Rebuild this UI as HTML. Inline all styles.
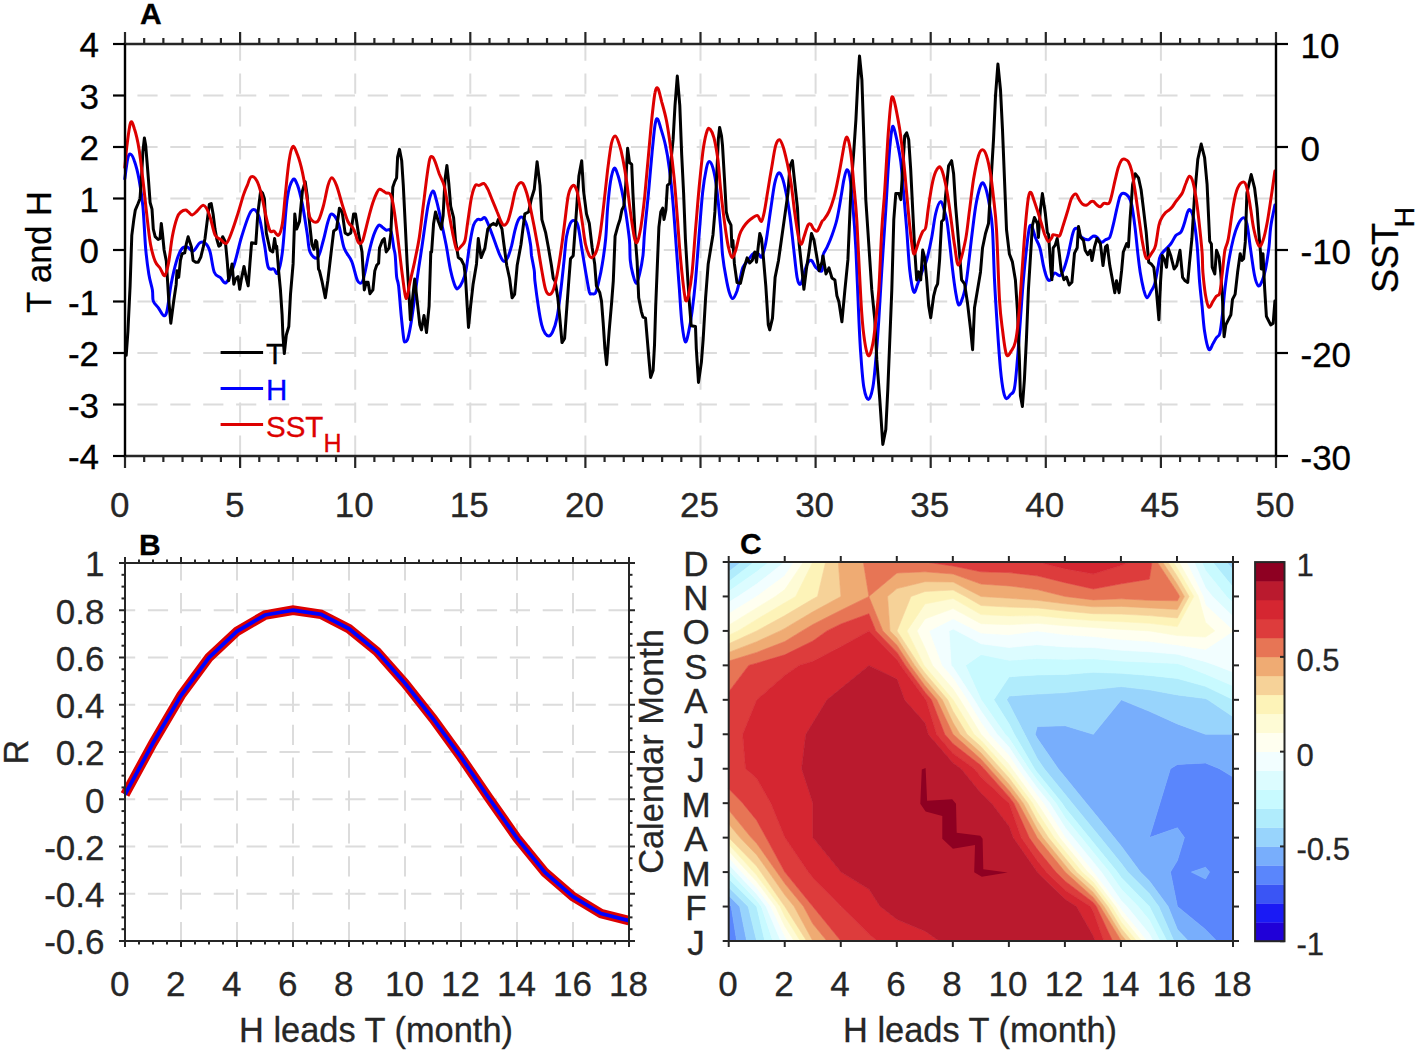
<!DOCTYPE html>
<html><head><meta charset="utf-8"><style>
html,body{margin:0;padding:0;background:#fff;width:1417px;height:1053px;overflow:hidden}
svg{display:block;font-family:"Liberation Sans", sans-serif}
text{stroke:currentColor;stroke-width:0.3px;paint-order:stroke}
</style></head><body>
<svg width="1417" height="1053" viewBox="0 0 1417 1053">
<rect width="1417" height="1053" fill="#fff"/>
<line x1="125.00" y1="404.50" x2="1276.00" y2="404.50" stroke="#dcdcdc" stroke-width="2" stroke-dasharray="20.2 12.7" stroke-dashoffset="20.5"/>
<line x1="125.00" y1="353.00" x2="1276.00" y2="353.00" stroke="#dcdcdc" stroke-width="2" stroke-dasharray="20.2 12.7" stroke-dashoffset="20.5"/>
<line x1="125.00" y1="301.50" x2="1276.00" y2="301.50" stroke="#dcdcdc" stroke-width="2" stroke-dasharray="20.2 12.7" stroke-dashoffset="20.5"/>
<line x1="125.00" y1="250.00" x2="1276.00" y2="250.00" stroke="#dcdcdc" stroke-width="2" stroke-dasharray="20.2 12.7" stroke-dashoffset="20.5"/>
<line x1="125.00" y1="198.50" x2="1276.00" y2="198.50" stroke="#dcdcdc" stroke-width="2" stroke-dasharray="20.2 12.7" stroke-dashoffset="20.5"/>
<line x1="125.00" y1="147.00" x2="1276.00" y2="147.00" stroke="#dcdcdc" stroke-width="2" stroke-dasharray="20.2 12.7" stroke-dashoffset="20.5"/>
<line x1="125.00" y1="95.50" x2="1276.00" y2="95.50" stroke="#dcdcdc" stroke-width="2" stroke-dasharray="20.2 12.7" stroke-dashoffset="20.5"/>
<line x1="240.10" y1="44.00" x2="240.10" y2="456.00" stroke="#dcdcdc" stroke-width="2" stroke-dasharray="20.2 12.7" stroke-dashoffset="3.4"/>
<line x1="355.20" y1="44.00" x2="355.20" y2="456.00" stroke="#dcdcdc" stroke-width="2" stroke-dasharray="20.2 12.7" stroke-dashoffset="3.4"/>
<line x1="470.30" y1="44.00" x2="470.30" y2="456.00" stroke="#dcdcdc" stroke-width="2" stroke-dasharray="20.2 12.7" stroke-dashoffset="3.4"/>
<line x1="585.40" y1="44.00" x2="585.40" y2="456.00" stroke="#dcdcdc" stroke-width="2" stroke-dasharray="20.2 12.7" stroke-dashoffset="3.4"/>
<line x1="700.50" y1="44.00" x2="700.50" y2="456.00" stroke="#dcdcdc" stroke-width="2" stroke-dasharray="20.2 12.7" stroke-dashoffset="3.4"/>
<line x1="815.60" y1="44.00" x2="815.60" y2="456.00" stroke="#dcdcdc" stroke-width="2" stroke-dasharray="20.2 12.7" stroke-dashoffset="3.4"/>
<line x1="930.70" y1="44.00" x2="930.70" y2="456.00" stroke="#dcdcdc" stroke-width="2" stroke-dasharray="20.2 12.7" stroke-dashoffset="3.4"/>
<line x1="1045.80" y1="44.00" x2="1045.80" y2="456.00" stroke="#dcdcdc" stroke-width="2" stroke-dasharray="20.2 12.7" stroke-dashoffset="3.4"/>
<line x1="1160.90" y1="44.00" x2="1160.90" y2="456.00" stroke="#dcdcdc" stroke-width="2" stroke-dasharray="20.2 12.7" stroke-dashoffset="3.4"/>
<path d="M124.8 178.8C125.3 175.5 126.7 163.0 127.7 158.9C128.6 154.7 129.4 153.8 130.5 154.1C131.7 154.4 132.9 156.5 134.3 160.8C135.8 165.0 137.7 172.1 139.1 179.7C140.5 187.3 141.8 194.8 142.9 206.3C144.0 217.8 144.7 237.6 145.7 248.9C146.7 260.2 147.7 267.1 148.8 273.9C149.9 280.8 151.6 285.3 152.4 289.9C153.1 294.4 152.3 298.1 153.3 301.1C154.3 304.1 156.7 305.5 158.4 307.9C160.1 310.3 162.1 315.0 163.5 315.5C164.9 316.1 165.6 316.5 166.9 311.3C168.2 306.1 169.6 292.4 171.1 284.2C172.7 276.0 174.5 268.0 176.2 262.2C177.9 256.4 179.4 252.0 181.3 249.5C183.1 246.9 185.2 246.7 187.2 246.9C189.2 247.2 191.0 251.9 193.1 251.2C195.3 250.5 197.8 244.0 199.9 242.7C202.0 241.4 204.1 242.0 205.8 243.6C207.5 245.1 208.7 247.2 210.1 252.0C211.5 256.8 212.6 268.1 214.3 272.3C216.0 276.6 218.3 275.7 220.2 277.4C222.2 279.1 223.9 284.5 226.2 282.5C228.5 280.5 231.4 272.8 234.0 265.2C236.6 257.5 238.8 245.7 241.6 236.7C244.5 227.7 248.3 214.5 251.1 211.1C254.0 207.6 256.5 210.3 258.7 215.8C260.9 221.4 262.8 235.8 264.4 244.3C266.0 252.8 266.6 263.0 268.2 267.1C269.8 271.2 272.3 268.0 273.9 269.0C275.5 269.9 276.3 275.6 277.7 272.8C279.1 269.9 280.9 264.2 282.4 251.9C284.0 239.5 285.4 210.8 287.2 198.7C288.9 186.7 291.1 182.0 292.9 179.7C294.6 177.5 296.0 181.3 297.6 185.4C299.2 189.6 300.8 196.5 302.4 204.4C304.0 212.3 305.8 225.0 307.1 232.9C308.4 240.8 308.2 247.8 310.0 251.9C311.7 256.0 315.3 259.5 317.6 257.6C319.8 255.7 321.5 246.5 323.3 240.5C325.0 234.5 326.6 225.9 328.0 221.5C329.4 217.1 330.1 213.6 331.8 213.9C333.5 214.2 336.4 217.7 338.4 223.4C340.5 229.1 341.9 241.8 344.1 248.1C346.4 254.4 349.5 256.0 351.7 261.4C353.9 266.8 355.7 276.9 357.4 280.4C359.1 283.8 360.7 283.8 362.0 282.3C363.3 280.7 364.1 275.9 365.3 270.9C366.5 265.8 367.7 257.9 369.1 251.9C370.5 245.9 372.3 239.2 373.8 234.8C375.4 230.4 377.2 226.6 378.6 225.3C380.0 224.0 381.1 226.4 382.4 227.2C383.6 228.0 384.8 229.4 386.2 230.1C387.6 230.7 389.7 228.0 390.9 231.0C392.2 234.0 393.1 244.0 393.8 248.1C394.5 252.2 394.7 250.7 395.2 255.4C395.7 260.2 396.1 271.5 396.6 276.6C397.2 281.7 397.8 279.5 398.6 285.9C399.3 292.2 400.3 305.9 401.1 314.7C402.0 323.4 403.0 333.9 403.7 338.4C404.4 342.9 404.6 341.8 405.4 341.8C406.1 341.8 406.9 341.8 407.9 338.4C408.9 335.0 410.2 328.2 411.3 321.5C412.4 314.7 413.5 305.9 414.7 297.8C415.8 289.6 416.9 280.2 418.1 272.3C419.2 264.4 419.8 261.3 421.4 250.3C423.1 239.3 426.1 216.2 427.9 206.3C429.8 196.5 431.3 192.1 432.7 191.1C434.1 190.2 435.1 195.6 436.5 200.6C437.9 205.7 439.7 214.2 441.2 221.5C442.8 228.8 444.4 236.1 446.0 244.3C447.6 252.5 449.1 263.8 450.7 270.9C452.3 278.0 454.2 284.2 455.5 287.0C456.7 289.9 457.2 288.8 458.3 288.0C459.4 287.2 460.9 285.1 462.1 282.3C463.4 279.4 464.7 277.2 465.9 270.9C467.2 264.5 468.4 251.9 469.7 244.3C471.0 236.7 472.2 229.4 473.5 225.3C474.8 221.2 476.0 220.6 477.3 219.6C478.6 218.7 479.8 219.9 481.1 219.6C482.4 219.3 483.6 216.8 484.9 217.7C486.2 218.7 487.1 221.5 488.7 225.3C490.3 229.1 492.5 235.4 494.4 240.5C496.3 245.6 498.5 252.2 500.1 255.7C501.7 259.2 502.6 261.1 503.9 261.4C505.2 261.7 506.4 260.1 507.7 257.6C509.0 255.1 510.2 250.9 511.5 246.2C512.7 241.4 514.0 233.7 515.3 229.1C516.5 224.5 517.8 220.6 519.1 218.7C520.3 216.8 521.6 216.6 522.9 217.7C524.1 218.8 525.4 220.9 526.7 225.3C527.9 229.7 529.7 239.3 530.5 244.3C531.3 249.3 530.9 251.0 531.5 255.4C532.2 259.8 533.7 266.6 534.3 270.9C534.8 275.1 534.3 274.9 534.9 280.8C535.6 286.7 537.2 298.9 538.3 306.2C539.4 313.6 540.6 320.3 541.7 324.9C542.8 329.4 543.8 331.5 545.1 333.3C546.4 335.2 548.1 336.1 549.3 335.9C550.6 335.6 551.4 334.6 552.7 331.6C554.0 328.7 555.7 324.3 556.9 318.1C558.2 311.9 559.2 303.4 560.3 294.4C561.5 285.3 562.7 273.5 563.7 263.9C564.8 254.3 565.4 243.4 566.5 236.7C567.6 230.0 569.1 226.1 570.3 223.4C571.6 220.7 572.9 220.2 574.1 220.6C575.4 220.9 576.7 220.7 577.9 225.3C579.2 229.9 580.5 240.5 581.7 248.1C583.0 255.7 584.3 263.6 585.5 270.9C586.8 278.2 588.3 288.0 589.3 291.8C590.4 295.6 590.9 293.5 592.0 293.7C593.0 293.8 594.4 294.8 595.6 292.7C596.7 290.5 597.8 285.6 598.9 280.8C600.1 276.0 601.2 270.9 602.3 263.9C603.5 256.8 604.8 247.8 605.7 238.5C606.6 229.2 606.8 217.6 607.6 208.1C608.4 198.6 609.4 188.2 610.5 181.5C611.6 174.9 613.0 169.2 614.3 168.2C615.5 167.3 616.8 172.0 618.1 175.8C619.3 179.6 620.6 185.0 621.9 191.0C623.1 197.0 624.4 203.7 625.7 211.9C626.9 220.1 628.7 232.3 629.5 240.4C630.2 248.5 629.7 254.9 630.3 260.5C630.8 266.1 631.8 270.2 632.8 274.0C633.8 277.8 635.1 283.4 636.2 283.4C637.3 283.4 638.5 278.7 639.6 274.0C640.7 269.4 642.1 262.6 643.0 255.4C643.8 248.2 643.7 241.3 644.7 230.9C645.6 220.5 647.2 206.2 648.5 192.9C649.7 179.6 651.1 162.5 652.2 151.1C653.4 139.7 654.2 129.9 655.1 124.6C656.0 119.2 656.6 118.2 657.6 118.9C658.5 119.5 659.5 123.9 660.8 128.4C662.1 132.8 664.1 138.8 665.5 145.4C667.0 152.1 668.1 158.4 669.3 168.2C670.6 178.0 671.9 189.8 673.1 204.3C674.4 218.8 675.8 241.2 676.9 255.4C677.9 269.6 678.5 278.0 679.4 289.3C680.2 300.6 680.9 314.4 681.9 323.2C682.9 331.9 684.2 340.4 685.3 341.8C686.4 343.2 687.6 336.7 688.7 331.6C689.8 326.5 691.0 319.8 692.1 311.3C693.2 302.8 694.4 292.9 695.5 280.8C696.6 268.7 697.6 253.6 698.8 238.9C700.0 224.3 701.3 204.7 702.6 192.9C703.8 181.1 705.3 173.4 706.4 168.2C707.5 163.0 708.1 161.6 709.2 161.6C710.3 161.6 711.7 163.6 713.0 168.2C714.3 172.8 715.5 179.3 716.8 189.1C718.1 198.9 719.6 216.0 720.6 227.1C721.6 238.1 721.7 247.0 722.6 255.4C723.5 263.8 724.8 271.2 726.0 277.4C727.1 283.6 728.2 289.1 729.4 292.7C730.5 296.2 731.5 298.9 732.7 298.6C734.0 298.3 735.7 294.5 737.0 291.0C738.2 287.4 739.4 281.4 740.4 277.4C741.4 273.5 741.6 270.1 742.9 267.3C744.2 264.4 746.3 262.7 748.0 260.5C749.7 258.2 751.4 254.8 753.1 253.7C754.8 252.6 756.7 253.1 758.2 253.7C759.6 254.3 760.4 258.2 761.5 257.1C762.7 256.0 764.0 250.7 764.9 246.9C765.9 243.2 766.1 241.1 767.1 234.7C768.1 228.2 769.6 216.6 770.9 208.1C772.2 199.5 773.4 189.3 774.7 183.4C776.0 177.6 777.2 173.9 778.5 173.0C779.8 172.0 781.0 174.4 782.3 177.7C783.6 181.0 784.8 186.6 786.1 192.9C787.4 199.2 788.6 206.4 789.9 215.7C791.2 225.0 792.5 238.5 793.7 248.8C794.9 259.1 796.0 271.5 797.1 277.4C798.2 283.3 799.4 284.8 800.5 284.2C801.6 283.6 802.8 277.4 803.9 274.0C805.0 270.7 806.0 266.1 807.3 263.9C808.5 261.6 810.1 259.9 811.5 260.5C812.9 261.1 814.0 265.6 815.7 267.3C817.5 269.0 820.8 272.6 822.0 270.7C823.2 268.7 822.1 259.3 823.0 255.4C823.8 251.6 825.5 250.8 827.0 247.4C828.5 244.1 830.3 240.1 831.9 235.5C833.6 230.8 835.4 225.8 836.9 219.5C838.4 213.2 839.8 204.2 840.9 197.6C842.1 190.9 842.9 184.3 843.9 179.6C844.9 175.0 845.9 170.0 846.9 169.7C847.9 169.3 848.9 171.7 849.9 177.6C850.9 183.6 851.9 193.6 852.9 205.6C853.9 217.5 854.9 230.4 855.9 249.4C856.9 268.5 858.0 302.1 858.9 319.8C859.7 337.5 860.0 344.4 860.9 355.7C861.7 367.0 862.6 380.3 863.9 387.6C865.1 394.9 866.9 399.6 868.4 399.6C869.9 399.6 871.6 394.2 872.8 387.6C874.1 380.9 874.8 371.0 875.8 359.7C876.8 348.4 877.8 334.7 878.8 319.8C879.8 304.8 880.6 288.3 881.8 269.9C883.0 251.5 884.6 227.9 885.8 209.6C887.0 191.2 887.8 173.0 888.8 159.7C889.8 146.4 890.9 135.1 891.8 129.8C892.6 124.5 892.9 126.1 893.8 127.8C894.6 129.4 895.6 134.1 896.8 139.7C897.9 145.4 899.6 152.7 900.8 161.7C901.9 170.7 902.7 182.3 903.7 193.6C904.7 204.9 905.7 216.8 906.7 229.5C907.7 242.2 908.6 259.5 909.7 269.9C910.9 280.3 912.4 289.5 913.7 291.9C915.0 294.2 916.2 287.5 917.7 283.9C919.2 280.2 921.2 273.9 922.7 269.9C924.2 265.9 925.2 265.4 926.7 259.9C928.2 254.5 930.2 245.2 931.7 237.5C933.2 229.7 934.2 219.5 935.7 213.5C937.1 207.6 939.1 201.9 940.6 201.6C942.1 201.2 943.5 207.6 944.6 211.5C945.8 215.5 946.3 215.8 947.6 225.5C948.9 235.2 951.3 258.9 952.6 269.9C953.9 281.0 954.6 286.0 955.6 291.9C956.6 297.7 957.4 303.8 958.6 304.8C959.8 305.8 961.2 302.0 962.6 297.8C963.9 293.7 964.9 291.3 966.6 279.9C968.2 268.5 970.9 242.5 972.6 229.5C974.2 216.4 975.0 209.2 976.5 201.6C978.0 193.9 980.0 186.0 981.5 183.6C983.0 181.3 984.2 184.0 985.5 187.6C986.8 191.3 988.3 198.6 989.5 205.6C990.7 212.5 991.7 217.1 992.5 229.5C993.3 241.9 993.7 263.2 994.5 279.9C995.3 296.6 996.5 314.8 997.5 329.7C998.5 344.7 999.5 359.3 1000.5 369.6C1001.5 379.9 1002.5 386.8 1003.5 391.6C1004.5 396.4 1005.3 398.1 1006.5 398.6C1007.6 399.1 1009.1 396.2 1010.4 394.6C1011.8 392.9 1013.3 394.4 1014.4 388.6C1015.6 382.8 1016.4 371.1 1017.4 359.7C1018.4 348.2 1019.4 333.1 1020.4 319.8C1021.4 306.5 1022.1 294.3 1023.4 279.9C1024.7 265.5 1027.1 242.5 1028.4 233.5C1029.7 224.4 1030.2 224.8 1031.4 225.5C1032.5 226.2 1033.9 233.8 1035.4 237.5C1036.8 241.2 1038.6 243.2 1039.9 247.8C1041.3 252.4 1042.2 260.2 1043.3 265.1C1044.4 269.9 1045.5 274.5 1046.6 277.0C1047.7 279.6 1048.6 281.0 1049.9 280.3C1051.2 279.7 1052.9 273.8 1054.6 273.0C1056.2 272.3 1058.3 276.4 1059.9 275.7C1061.4 275.0 1062.6 272.4 1063.9 269.0C1065.2 265.7 1066.5 261.1 1067.9 255.7C1069.2 250.4 1070.8 241.6 1071.9 237.1C1073.0 232.7 1073.4 230.5 1074.5 229.1C1075.6 227.8 1077.6 228.1 1078.5 229.1C1079.4 230.2 1079.1 233.9 1080.1 235.5C1081.1 237.1 1082.9 238.2 1084.3 238.9C1085.8 239.6 1087.2 240.2 1088.6 239.7C1090.0 239.3 1091.4 236.8 1092.8 236.3C1094.2 235.9 1095.6 236.2 1097.0 237.2C1098.5 238.2 1099.9 241.9 1101.3 242.3C1102.7 242.7 1104.1 240.6 1105.5 239.7C1106.9 238.9 1108.5 239.6 1109.8 237.2C1111.0 234.8 1112.0 229.9 1113.1 225.3C1114.3 220.8 1115.4 214.9 1116.5 210.1C1117.7 205.3 1118.8 199.4 1119.9 196.5C1121.0 193.7 1121.9 193.2 1123.3 193.2C1124.7 193.2 1127.0 194.6 1128.4 196.5C1129.8 198.5 1130.6 199.6 1131.8 205.0C1132.9 210.4 1134.2 220.8 1135.2 228.7C1136.1 236.6 1136.9 245.2 1137.7 252.4C1138.5 259.7 1139.3 266.2 1140.2 272.3C1141.2 278.5 1142.5 285.0 1143.6 289.3C1144.8 293.5 1145.7 297.5 1147.0 297.8C1148.3 298.0 1150.0 293.2 1151.2 291.0C1152.5 288.7 1153.5 288.2 1154.6 284.2C1155.8 280.2 1157.0 272.1 1158.0 267.3C1159.0 262.5 1158.4 259.3 1160.6 255.4C1162.7 251.5 1168.2 247.3 1170.7 244.0C1173.3 240.7 1174.1 237.5 1175.8 235.5C1177.5 233.5 1179.5 234.1 1180.9 232.1C1182.3 230.1 1183.1 227.0 1184.3 223.6C1185.4 220.3 1186.7 214.0 1187.7 211.8C1188.7 209.5 1189.2 209.0 1190.2 210.1C1191.2 211.2 1192.5 212.9 1193.6 218.6C1194.7 224.2 1196.0 233.6 1197.0 244.0C1198.0 254.3 1198.7 270.4 1199.5 280.8C1200.4 291.2 1201.2 297.8 1202.1 306.2C1202.9 314.7 1203.5 324.4 1204.6 331.6C1205.7 338.8 1207.4 347.4 1208.8 349.4C1210.2 351.4 1211.8 345.5 1213.1 343.5C1214.3 341.5 1215.3 339.2 1216.5 337.6C1217.6 335.9 1218.9 337.1 1219.8 333.3C1220.8 329.5 1221.5 322.0 1222.4 314.7C1223.2 307.3 1223.9 297.8 1224.9 289.3C1225.9 280.8 1226.9 272.3 1228.3 263.9C1229.7 255.4 1231.7 245.2 1233.4 238.5C1235.1 231.8 1236.8 227.1 1238.5 223.6C1240.2 220.2 1242.1 217.7 1243.6 217.7C1245.0 217.7 1245.8 218.7 1246.9 223.6C1248.1 228.6 1249.1 238.7 1250.3 247.4C1251.6 256.0 1253.2 269.3 1254.6 275.7C1255.9 282.2 1257.2 285.0 1258.5 285.9C1259.7 286.7 1261.0 283.6 1262.2 280.8C1263.4 278.0 1264.4 274.6 1265.6 269.0C1266.7 263.3 1268.1 253.9 1269.0 246.9C1269.8 240.0 1269.7 234.0 1270.7 227.0C1271.6 220.0 1274.2 208.7 1274.9 205.0" fill="none" stroke="#0000ff" stroke-width="3.0" stroke-linejoin="round" stroke-linecap="round"/>
<polyline points="126.2,355.3 127.9,331.6 130.1,285.9 131.8,235.4 133.8,219.6 135.3,210.1 138.1,203.5 140.0,198.7 141.6,175.9 142.9,151.3 144.4,138.0 145.7,145.6 147.1,162.7 148.6,181.6 150.1,202.5 152.0,209.2 153.3,229.1 155.2,236.7 158.1,239.5 160.0,238.6 161.3,223.4 162.4,232.9 164.1,250.0 166.3,261.0 168.6,297.8 170.8,323.2 173.7,301.1 176.2,284.2 177.0,270.7 178.7,277.4 180.4,260.5 182.1,253.7 184.7,252.9 186.4,243.6 188.1,236.8 189.8,241.9 191.4,246.9 193.1,260.5 195.7,262.2 198.2,262.2 200.8,257.1 203.3,246.9 205.0,238.5 209.3,204.4 211.2,203.5 213.1,213.9 215.0,229.1 216.9,239.5 218.8,246.2 220.5,245.2 222.7,236.7 225.4,242.0 227.2,260.9 228.7,280.8 232.1,263.9 233.8,284.2 235.5,279.1 238.0,276.6 239.7,289.3 241.4,279.1 244.0,266.4 246.5,279.1 248.2,285.9 249.9,263.9 251.6,242.7 255.8,243.6 257.8,213.9 260.6,191.1 262.5,193.0 264.4,198.7 266.3,232.9 270.1,250.2 272.8,252.0 274.6,238.4 276.1,248.6 276.7,246.2 278.7,271.6 280.4,289.3 282.1,314.7 282.9,335.0 284.3,353.6 286.3,335.0 288.8,326.5 290.5,294.4 293.1,263.9 294.8,213.9 296.7,229.1 299.5,221.5 302.4,191.1 305.2,181.6 307.1,194.9 309.0,217.7 311.9,244.3 314.0,249.3 315.7,240.5 316.8,241.9 317.6,250.0 318.5,269.0 319.5,270.9 321.9,280.8 325.3,297.8 327.8,280.8 331.0,253.6 333.7,231.0 336.5,229.1 339.4,208.2 342.2,212.0 345.1,232.9 347.9,234.8 350.8,232.9 353.6,213.9 355.5,213.9 358.4,232.9 362.0,251.9 364.3,289.9 366.2,282.3 368.1,282.3 370.0,293.7 372.9,289.9 374.8,270.9 376.7,265.2 378.6,263.3 379.5,248.1 382.4,240.5 384.3,238.6 386.2,251.9 389.0,248.1 390.9,232.9 392.8,187.3 394.7,181.6 396.6,177.8 397.6,157.0 399.5,149.4 401.7,160.8 403.3,185.4 405.2,223.4 407.1,262.6 408.7,289.3 410.4,319.8 413.0,294.4 414.7,279.1 417.2,301.1 419.8,324.9 421.4,329.9 424.0,315.5 426.5,332.5 429.1,306.2 430.8,251.9 431.6,252.0 433.6,223.4 435.5,212.0 438.4,221.5 441.2,229.1 443.1,215.8 445.0,179.7 446.9,165.5 448.8,183.5 450.7,206.3 453.6,217.7 455.5,240.5 458.3,257.6 461.2,259.5 464.0,265.2 465.5,277.4 467.2,306.2 468.5,327.4 470.6,306.2 473.1,284.2 476.5,263.9 478.3,238.6 481.1,257.6 484.9,248.1 487.8,229.1 490.6,225.3 493.4,223.4 496.3,225.3 498.2,219.6 502.0,229.1 503.9,244.3 506.7,265.2 509.6,278.5 512.1,297.8 514.6,294.4 517.2,265.2 521.0,244.3 524.8,213.9 528.6,212.0 531.4,198.7 534.3,189.2 537.1,161.7 540.0,185.4 541.9,219.6 545.7,232.9 548.5,248.1 551.4,265.2 553.3,278.5 555.2,281.5 557.8,297.8 559.5,314.7 562.0,342.6 564.6,338.4 566.3,314.7 568.8,280.8 570.5,258.8 573.2,255.7 576.0,217.7 578.9,175.9 581.7,160.8 583.6,191.1 586.5,213.9 589.3,223.4 592.1,247.2 594.7,263.9 596.4,285.9 599.8,292.7 601.5,301.1 603.2,323.2 604.9,348.6 606.6,364.7 609.1,331.6 611.6,302.8 613.3,280.8 615.1,236.1 618.1,225.2 620.0,219.5 621.9,210.0 623.8,206.2 625.7,185.3 626.6,166.3 627.6,148.3 629.5,162.5 631.7,164.4 632.9,192.9 635.1,235.1 637.1,261.1 638.7,297.8 641.3,311.3 643.0,317.2 645.5,318.1 647.2,338.4 648.9,358.7 650.6,377.4 653.1,370.6 654.5,345.2 655.7,306.2 657.4,263.9 658.9,227.1 660.8,211.9 662.7,208.1 664.0,219.5 665.9,210.0 667.4,185.3 669.7,183.4 671.2,158.7 673.1,139.7 675.0,105.6 677.3,76.1 679.8,105.6 681.7,154.9 683.6,192.9 685.4,238.9 687.9,280.8 689.6,306.2 691.2,325.7 695.5,326.5 696.3,348.6 698.5,382.4 701.4,362.1 703.1,340.1 705.6,297.8 708.2,263.9 713.0,234.7 714.9,211.9 716.8,173.9 718.3,139.7 719.6,127.4 721.5,135.9 722.5,145.4 724.4,177.7 726.3,211.9 728.2,219.5 731.0,225.2 731.9,246.9 732.9,240.4 734.4,263.9 737.0,282.5 740.4,283.4 743.8,269.0 747.1,257.9 749.7,263.0 752.2,260.5 754.8,252.0 756.5,262.2 758.2,246.9 759.8,233.4 761.5,238.5 763.2,255.4 765.8,285.9 768.3,324.9 769.7,329.9 772.5,318.1 775.1,277.4 778.5,260.5 788.0,192.9 789.9,166.3 792.4,160.6 794.6,181.5 797.5,208.1 799.1,243.3 802.2,272.3 803.9,289.3 806.4,269.0 809.0,252.0 811.5,233.4 814.0,240.2 816.6,255.4 819.1,270.8 822.0,261.9 823.0,256.0 826.0,273.9 829.0,267.9 831.9,277.9 834.9,279.9 836.9,295.8 838.9,301.8 841.9,321.8 844.9,289.9 847.9,259.9 850.9,189.6 853.9,149.7 855.9,119.8 857.9,79.9 859.5,56.0 861.9,79.9 863.9,139.7 865.8,199.6 867.8,229.5 871.8,289.9 874.8,319.8 876.8,359.7 879.8,399.6 882.8,444.4 885.8,429.5 887.8,389.6 889.8,339.7 891.8,289.9 893.8,219.5 895.8,193.6 898.8,193.6 900.8,199.6 902.7,169.7 904.7,135.8 906.7,132.8 908.7,139.7 910.7,169.7 912.7,209.6 914.7,249.4 916.7,279.9 918.7,271.9 920.7,279.9 922.7,250.0 924.7,257.9 926.7,279.9 928.7,305.8 930.7,317.8 933.7,295.8 935.7,287.9 937.6,283.9 939.6,259.9 941.6,221.5 943.6,219.5 945.6,195.6 948.6,165.7 951.6,160.7 953.6,173.7 955.6,205.6 957.6,229.5 961.6,279.9 964.6,283.9 967.6,303.8 970.6,329.7 972.6,349.7 974.5,307.8 977.5,289.9 980.5,271.9 982.5,248.0 985.5,233.5 988.5,223.5 990.5,189.6 993.5,139.7 995.5,95.9 997.9,64.0 1000.5,89.9 1002.5,129.8 1004.5,179.6 1006.5,229.5 1009.4,254.0 1012.4,261.9 1015.4,279.9 1017.4,309.8 1019.4,359.7 1020.4,395.6 1022.4,406.5 1024.4,379.6 1026.4,339.7 1028.4,289.9 1032.4,225.5 1034.4,217.5 1037.4,223.5 1038.4,237.5 1040.4,209.6 1042.4,193.6 1045.3,213.2 1047.3,232.5 1048.6,234.5 1050.6,266.4 1051.9,279.7 1053.2,247.8 1055.2,245.1 1057.2,238.5 1059.2,253.1 1061.2,270.4 1063.9,279.7 1066.5,277.0 1069.2,285.0 1071.9,282.3 1074.5,253.1 1077.2,247.8 1078.5,226.5 1080.5,237.1 1083.5,240.6 1085.2,250.3 1087.7,254.6 1090.3,250.3 1092.0,260.5 1094.5,246.9 1097.0,238.5 1100.4,243.6 1103.0,265.6 1105.5,246.9 1107.2,245.2 1109.8,265.6 1112.3,279.1 1114.8,292.7 1116.5,280.8 1119.1,292.7 1121.6,270.7 1123.3,252.0 1126.7,243.6 1128.4,246.9 1130.1,218.6 1132.6,184.7 1135.2,173.7 1138.5,177.9 1141.1,189.8 1143.6,210.1 1146.2,232.1 1147.9,252.4 1148.7,262.2 1151.2,263.9 1153.8,267.3 1156.3,289.3 1158.9,319.8 1160.6,280.8 1162.3,255.4 1164.8,260.5 1166.5,267.3 1168.2,248.6 1170.7,255.4 1174.1,269.0 1176.7,265.6 1180.0,250.3 1182.6,277.4 1185.1,280.8 1187.7,282.5 1189.4,263.9 1191.9,238.5 1194.4,198.2 1197.8,159.3 1201.2,144.0 1204.6,157.6 1207.1,184.7 1209.7,241.2 1211.4,244.0 1212.2,267.3 1214.8,274.0 1216.5,250.3 1219.0,257.1 1220.7,272.3 1222.4,297.8 1224.1,336.7 1225.8,324.9 1228.3,319.8 1230.9,314.7 1232.5,299.4 1235.1,294.4 1237.6,272.3 1240.2,253.7 1241.9,260.5 1243.6,258.8 1245.3,241.9 1246.9,193.2 1251.2,174.5 1254.6,188.1 1257.1,208.4 1258.8,232.1 1260.5,252.4 1261.3,269.0 1263.0,253.7 1264.7,289.3 1266.4,316.4 1269.0,321.5 1270.7,324.9 1273.2,323.2 1274.9,301.1" fill="none" stroke="#000000" stroke-width="3.0" stroke-linejoin="round" stroke-linecap="round"/>
<path d="M124.8 167.4C125.2 164.1 125.8 154.9 126.7 147.5C127.7 140.0 129.3 125.9 130.5 122.8C131.8 119.6 132.9 124.0 134.3 128.5C135.8 132.9 137.7 140.8 139.1 149.4C140.5 157.9 141.6 169.0 142.9 179.7C144.2 190.5 145.4 203.2 146.7 213.9C147.9 224.7 149.1 236.4 150.5 244.3C151.9 252.2 153.6 257.4 155.2 261.4C156.8 265.3 158.4 265.7 160.0 268.0C161.6 270.4 163.3 276.4 164.7 275.6C166.1 274.8 167.3 269.8 168.5 263.3C169.8 256.8 170.9 244.3 172.3 236.7C173.7 229.1 175.6 221.8 177.1 217.7C178.5 213.6 179.4 213.3 180.9 212.0C182.3 210.8 184.3 210.1 185.6 210.1C186.9 210.1 187.3 211.2 188.5 212.0C189.6 212.8 190.8 215.0 192.2 214.9C193.7 214.7 195.3 212.7 197.0 211.1C198.7 209.5 201.1 205.8 202.7 205.4C204.3 204.9 205.2 206.2 206.5 208.2C207.8 210.3 208.9 213.3 210.3 217.7C211.7 222.1 213.3 231.2 215.0 234.8C216.8 238.4 218.8 238.1 220.7 239.5C222.6 241.0 224.5 244.8 226.4 243.3C228.3 241.9 230.2 235.9 232.1 231.0C234.0 226.1 235.9 219.9 237.8 213.9C239.7 207.9 241.9 199.7 243.5 194.9C245.1 190.2 246.0 188.4 247.3 185.4C248.6 182.4 249.5 177.7 251.1 176.9C252.7 176.1 255.1 177.7 256.8 180.7C258.5 183.7 260.0 188.8 261.5 194.9C263.1 201.1 264.9 211.7 266.3 217.7C267.7 223.7 268.8 228.8 270.1 231.0C271.4 233.2 272.5 230.3 273.9 231.0C275.3 231.7 277.2 236.4 278.6 235.2C280.1 233.9 281.3 230.1 282.4 223.4C283.5 216.7 284.2 205.4 285.3 194.9C286.4 184.5 287.8 168.8 289.1 160.8C290.3 152.7 291.5 147.5 292.9 146.5C294.3 145.6 296.0 150.8 297.6 155.1C299.2 159.3 300.8 164.9 302.4 172.1C304.0 179.4 305.8 191.1 307.1 198.7C308.4 206.3 308.2 213.9 310.0 217.7C311.7 221.5 315.3 223.4 317.6 221.5C319.8 219.6 321.5 212.3 323.3 206.3C325.0 200.3 326.6 190.2 328.0 185.4C329.4 180.7 330.4 177.8 331.8 177.8C333.2 177.8 334.8 181.0 336.5 185.4C338.3 189.9 340.3 198.4 342.2 204.4C344.1 210.4 346.0 217.4 347.9 221.5C349.8 225.6 351.9 225.6 353.6 229.1C355.4 232.6 356.9 240.3 358.4 242.4C359.8 244.5 361.1 243.5 362.2 241.6C363.4 239.7 364.1 235.3 365.3 231.0C366.4 226.7 367.8 220.6 369.1 215.8C370.4 211.1 371.6 206.3 372.9 202.5C374.2 198.7 375.6 195.2 376.7 193.0C377.8 190.8 378.4 189.6 379.5 189.2C380.6 188.9 382.2 190.5 383.3 191.1C384.4 191.8 385.1 192.6 386.2 193.0C387.3 193.5 388.9 192.4 390.0 194.0C391.1 195.6 391.9 197.9 392.8 202.5C393.8 207.1 394.6 213.3 395.7 221.5C396.8 229.7 398.4 243.0 399.5 251.9C400.6 260.7 401.2 266.9 402.3 274.7C403.4 282.4 404.8 297.1 406.1 298.4C407.4 299.7 408.5 288.4 409.9 282.3C411.3 276.1 413.1 269.0 414.7 261.4C416.2 253.8 418.0 245.9 419.4 236.7C420.8 227.5 421.9 216.4 423.2 206.3C424.5 196.2 425.9 183.9 427.0 175.9C428.1 168.0 428.9 162.0 429.8 158.9C430.8 155.7 431.7 156.3 432.7 157.0C433.6 157.6 434.4 159.8 435.5 162.7C436.6 165.5 437.9 170.2 439.3 174.0C440.8 177.8 442.8 181.0 444.1 185.4C445.3 189.9 446.0 195.2 446.9 200.6C447.9 206.0 448.8 212.3 449.8 217.7C450.7 223.1 451.7 228.2 452.6 232.9C453.6 237.6 454.7 243.3 455.5 246.2C456.3 249.0 456.4 250.0 457.4 250.0C458.3 250.0 459.9 247.8 461.2 246.2C462.4 244.6 463.9 244.6 465.0 240.5C466.1 236.4 466.7 228.8 467.8 221.5C468.9 214.2 470.3 202.8 471.6 196.8C472.9 190.8 474.1 187.3 475.4 185.4C476.7 183.5 477.8 185.8 479.2 185.4C480.6 185.1 482.5 182.9 484.0 183.5C485.4 184.2 486.3 186.4 487.8 189.2C489.2 192.1 490.9 196.8 492.5 200.6C494.1 204.4 495.8 208.5 497.2 212.0C498.7 215.5 499.9 219.3 501.0 221.5C502.1 223.7 502.8 225.3 503.9 225.3C505.0 225.3 506.4 224.4 507.7 221.5C509.0 218.7 510.2 213.3 511.5 208.2C512.7 203.2 514.0 195.2 515.3 191.1C516.5 187.0 517.8 184.8 519.1 183.5C520.3 182.3 521.6 182.0 522.9 183.5C524.1 185.1 525.4 188.9 526.7 193.0C527.9 197.1 529.2 202.5 530.5 208.2C531.7 213.9 533.0 220.6 534.3 227.2C535.5 233.9 536.8 240.8 538.1 248.1C539.3 255.4 540.6 263.9 541.9 270.9C543.1 277.8 544.4 285.9 545.7 289.9C546.9 293.8 548.2 294.6 549.5 294.6C550.7 294.6 552.0 293.2 553.3 289.9C554.5 286.5 555.8 281.0 557.1 274.7C558.3 268.3 559.6 260.4 560.8 251.9C562.1 243.3 563.4 232.9 564.6 223.4C565.9 213.9 567.0 201.3 568.4 194.9C569.9 188.6 571.8 186.1 573.2 185.4C574.6 184.8 575.9 187.7 577.0 191.1C578.1 194.6 578.9 200.6 579.8 206.3C580.8 212.0 581.7 219.0 582.7 225.3C583.6 231.6 584.4 239.2 585.5 244.3C586.6 249.4 588.3 253.5 589.3 255.7C590.4 257.9 590.8 258.2 592.0 257.6C593.1 256.9 594.9 255.6 596.2 251.8C597.6 247.9 598.8 242.6 600.0 234.7C601.3 226.8 602.6 215.1 603.8 204.3C605.1 193.5 606.4 180.2 607.6 170.1C608.9 160.0 610.2 149.2 611.4 143.5C612.7 137.8 614.0 135.9 615.2 135.9C616.5 135.9 617.8 139.7 619.0 143.5C620.3 147.3 621.6 152.4 622.8 158.7C624.1 165.1 625.4 172.7 626.6 181.5C627.9 190.4 629.1 202.7 630.4 211.9C631.7 221.1 633.1 231.5 634.2 236.6C635.3 241.6 636.0 243.8 637.1 242.3C638.2 240.7 639.6 234.7 640.9 227.1C642.1 219.5 643.4 208.7 644.7 196.7C645.9 184.7 647.2 168.5 648.5 154.9C649.7 141.3 651.1 125.5 652.2 115.1C653.4 104.6 654.1 96.7 655.1 92.3C656.0 87.8 656.8 86.9 657.9 88.5C659.1 90.1 660.3 96.4 661.7 101.8C663.2 107.1 665.1 113.5 666.5 120.8C667.9 128.0 669.0 135.9 670.3 145.4C671.6 154.9 673.0 166.6 674.1 177.7C675.2 188.8 676.0 199.9 676.9 211.9C677.9 223.9 678.9 239.8 679.8 249.9C680.6 259.9 681.1 264.9 681.9 272.3C682.7 279.8 683.8 289.6 684.5 294.4C685.2 299.2 685.5 301.1 686.2 301.1C686.9 301.1 687.7 299.2 688.7 294.4C689.7 289.6 690.9 283.9 692.1 272.3C693.3 260.8 694.6 240.3 695.9 225.2C697.2 210.0 698.4 194.5 699.7 181.5C701.0 168.5 702.2 155.9 703.5 147.3C704.8 138.8 706.2 133.3 707.3 130.2C708.4 127.2 709.0 128.0 710.2 129.3C711.3 130.6 712.7 132.9 714.0 137.8C715.2 142.7 716.6 150.2 717.8 158.7C718.9 167.3 719.5 178.7 720.6 189.1C721.7 199.5 723.1 211.9 724.4 221.4C725.7 230.9 726.9 240.1 728.2 246.1C729.5 252.1 730.7 256.8 732.0 257.5C733.3 258.1 734.5 253.7 735.8 249.9C737.1 246.1 738.3 238.5 739.6 234.7C740.9 230.9 742.0 229.3 743.4 227.1C744.8 224.9 746.5 223.0 748.1 221.4C749.7 219.8 751.3 218.5 752.9 217.6C754.5 216.6 756.2 215.1 757.6 215.7C759.0 216.3 760.3 222.0 761.4 221.4C762.5 220.7 763.2 217.3 764.3 211.9C765.4 206.5 766.8 196.7 768.1 189.1C769.3 181.5 770.6 173.6 771.9 166.3C773.1 159.0 774.4 149.9 775.7 145.4C776.9 141.0 778.2 139.4 779.5 139.7C780.7 140.1 782.0 143.5 783.3 147.3C784.5 151.1 785.8 156.8 787.1 162.5C788.3 168.2 789.6 173.3 790.8 181.5C792.1 189.7 793.4 202.7 794.6 211.9C795.9 221.1 797.3 231.2 798.4 236.6C799.5 242.0 800.3 244.2 801.3 244.2C802.2 244.2 803.0 239.7 804.1 236.6C805.2 233.4 806.8 227.2 807.9 225.2C809.0 223.1 809.8 223.6 810.8 224.2C811.7 224.9 812.5 227.9 813.6 229.0C814.7 230.1 816.0 232.1 817.4 230.9C818.8 229.6 820.9 223.3 822.0 221.4C823.1 219.5 822.8 221.2 824.0 219.5C825.1 217.9 827.3 215.2 829.0 211.5C830.6 207.9 832.4 202.9 833.9 197.6C835.4 192.3 836.6 186.3 837.9 179.6C839.3 173.0 840.8 164.0 841.9 157.7C843.1 151.4 844.0 145.1 844.9 141.7C845.8 138.4 846.5 135.8 847.5 137.8C848.5 139.7 849.8 145.7 850.9 153.7C852.0 161.7 852.9 174.3 853.9 185.6C854.9 196.9 855.7 202.5 856.9 221.5C858.0 240.6 859.7 280.8 860.9 299.8C862.0 318.9 862.6 326.4 863.9 335.7C865.1 345.0 866.9 354.3 868.4 355.7C869.9 357.0 871.6 349.7 872.8 343.7C874.1 337.7 874.8 328.8 875.8 319.8C876.8 310.8 877.8 304.9 878.8 289.9C879.8 274.8 880.8 246.2 881.8 229.5C882.8 212.8 883.8 204.6 884.8 189.6C885.8 174.7 886.8 154.0 887.8 139.7C888.8 125.5 889.9 111.0 890.8 103.8C891.6 96.7 891.9 96.2 892.8 96.9C893.6 97.5 894.6 102.4 895.8 107.8C896.9 113.3 898.4 120.8 899.8 129.8C901.1 138.8 902.6 151.1 903.7 161.7C904.9 172.3 905.7 183.0 906.7 193.6C907.7 204.2 908.7 216.2 909.7 225.5C910.7 234.8 911.9 244.8 912.7 249.4C913.5 254.1 913.7 254.8 914.7 253.4C915.7 252.1 917.4 245.1 918.7 241.5C920.0 237.8 921.5 233.8 922.7 231.5C923.9 229.2 924.7 231.8 925.7 227.5C926.7 223.2 927.5 213.2 928.7 205.6C929.8 197.9 931.3 187.6 932.7 181.6C934.0 175.6 935.3 172.0 936.7 169.7C938.0 167.3 939.3 166.0 940.6 167.7C942.0 169.3 943.3 174.0 944.6 179.6C946.0 185.3 947.5 194.3 948.6 201.6C949.8 208.9 950.6 216.2 951.6 223.5C952.6 230.8 953.4 238.6 954.6 245.5C955.8 252.4 956.8 265.9 958.6 264.9C960.4 263.9 963.7 248.7 965.6 239.5C967.4 230.2 968.2 219.5 969.6 209.6C970.9 199.6 972.1 188.6 973.5 179.6C975.0 170.7 977.0 160.7 978.5 155.7C980.0 150.7 981.2 149.7 982.5 149.7C983.9 149.7 985.2 151.7 986.5 155.7C987.8 159.7 989.3 166.7 990.5 173.7C991.7 180.6 992.5 188.3 993.5 197.6C994.5 206.9 995.5 212.5 996.5 229.5C997.5 246.5 998.5 283.1 999.5 299.8C1000.5 316.5 1001.3 320.6 1002.5 329.7C1003.6 338.9 1005.0 351.2 1006.5 354.7C1008.0 358.2 1009.9 352.9 1011.4 350.7C1012.9 348.5 1014.3 346.9 1015.4 341.7C1016.6 336.6 1017.4 330.1 1018.4 319.8C1019.4 309.5 1020.3 295.6 1021.4 279.9C1022.6 264.2 1024.2 239.2 1025.4 225.5C1026.6 211.8 1027.5 203.1 1028.4 197.6C1029.3 192.1 1030.0 191.9 1031.0 192.6C1032.0 193.3 1033.1 198.1 1034.4 201.6C1035.6 205.1 1037.2 209.9 1038.4 213.5C1039.5 217.2 1040.4 220.2 1041.4 223.5C1042.4 226.8 1043.2 230.5 1044.3 233.5C1045.5 236.5 1047.1 240.8 1048.3 241.5C1049.6 242.1 1051.1 238.6 1051.9 237.5C1052.7 236.3 1052.1 235.0 1053.0 234.7C1053.9 234.3 1056.1 235.4 1057.2 235.5C1058.4 235.6 1058.8 237.2 1059.8 235.5C1060.8 233.8 1061.9 229.3 1063.2 225.3C1064.4 221.4 1066.0 216.3 1067.4 211.8C1068.8 207.3 1070.2 201.2 1071.6 198.2C1073.1 195.3 1074.6 193.7 1075.9 194.0C1077.1 194.3 1078.1 198.2 1079.3 199.9C1080.4 201.6 1081.4 203.3 1082.7 204.2C1083.9 205.0 1085.5 205.4 1086.9 205.0C1088.3 204.6 1090.0 202.2 1091.1 201.6C1092.2 201.1 1092.7 201.1 1093.7 201.6C1094.6 202.2 1095.9 204.2 1097.0 205.0C1098.2 205.9 1099.3 207.0 1100.4 206.7C1101.6 206.4 1102.4 203.9 1103.8 203.3C1105.2 202.8 1107.6 204.4 1108.9 203.3C1110.2 202.2 1110.5 200.2 1111.4 196.5C1112.4 192.9 1113.7 186.1 1114.8 181.3C1116.0 176.5 1117.1 171.3 1118.2 167.8C1119.3 164.2 1120.5 161.5 1121.6 160.1C1122.7 158.7 1123.9 159.0 1125.0 159.3C1126.1 159.6 1127.3 159.8 1128.4 161.8C1129.5 163.8 1130.6 166.2 1131.8 171.1C1132.9 176.1 1134.0 184.1 1135.2 191.5C1136.3 198.8 1137.4 207.3 1138.5 215.2C1139.7 223.1 1140.8 232.1 1141.9 238.9C1143.1 245.7 1144.3 252.6 1145.3 255.8C1146.3 259.1 1146.7 258.9 1147.9 258.4C1149.0 257.8 1150.8 254.6 1152.1 252.4C1153.4 250.3 1154.4 250.2 1155.5 245.7C1156.6 241.1 1157.9 229.9 1158.9 225.3C1159.9 220.8 1160.3 220.7 1161.4 218.6C1162.5 216.4 1164.4 214.0 1165.6 212.6C1166.9 211.2 1167.9 211.1 1169.0 210.1C1170.2 209.1 1171.3 208.1 1172.4 206.7C1173.5 205.3 1174.7 203.2 1175.8 201.6C1176.9 200.1 1178.1 198.9 1179.2 197.4C1180.3 195.8 1181.5 194.7 1182.6 192.3C1183.7 189.9 1184.8 185.7 1186.0 183.0C1187.1 180.3 1188.2 176.5 1189.4 176.2C1190.5 175.9 1191.6 177.6 1192.7 181.3C1193.9 185.0 1195.1 192.0 1196.1 198.2C1197.1 204.4 1197.7 209.5 1198.7 218.6C1199.7 227.6 1201.4 243.5 1202.1 252.4C1202.8 261.4 1202.3 265.4 1202.9 272.3C1203.5 279.3 1204.5 288.6 1205.4 294.4C1206.4 300.2 1207.6 305.9 1208.8 307.1C1210.1 308.2 1211.8 303.0 1213.1 301.1C1214.3 299.3 1215.3 297.5 1216.5 296.1C1217.6 294.6 1218.9 296.6 1219.8 292.7C1220.8 288.7 1221.5 279.4 1222.4 272.3C1223.2 265.3 1223.9 255.9 1224.9 250.3C1225.9 244.7 1226.9 246.4 1228.3 238.9C1229.7 231.3 1231.8 213.5 1233.4 205.0C1234.9 196.5 1235.9 191.9 1237.6 188.1C1239.3 184.3 1242.0 182.1 1243.6 182.1C1245.1 182.1 1245.8 184.0 1246.9 188.1C1248.1 192.2 1249.2 199.9 1250.3 206.7C1251.5 213.5 1252.3 222.2 1253.7 228.7C1255.1 235.2 1257.2 243.7 1258.8 245.7C1260.4 247.6 1261.6 244.5 1263.0 240.6C1264.4 236.6 1265.9 229.6 1267.3 222.0C1268.7 214.3 1270.2 203.3 1271.5 194.9C1272.8 186.4 1274.3 175.1 1274.9 171.1" fill="none" stroke="#dd0000" stroke-width="3.0" stroke-linejoin="round" stroke-linecap="round"/>

<line x1="123.80" y1="44.00" x2="1277.20" y2="44.00" stroke="#262626" stroke-width="2.4" />
<line x1="123.80" y1="456.00" x2="1277.20" y2="456.00" stroke="#262626" stroke-width="2.4" />
<line x1="125.00" y1="42.80" x2="125.00" y2="457.20" stroke="#000" stroke-width="2.4" />
<line x1="1276.00" y1="42.80" x2="1276.00" y2="457.20" stroke="#000" stroke-width="2.4" />
<line x1="125.00" y1="44.00" x2="125.00" y2="32.00" stroke="#262626" stroke-width="2.2" />
<line x1="125.00" y1="456.00" x2="125.00" y2="468.00" stroke="#262626" stroke-width="2.2" />
<line x1="144.18" y1="44.00" x2="144.18" y2="38.00" stroke="#262626" stroke-width="2.2" />
<line x1="144.18" y1="456.00" x2="144.18" y2="462.00" stroke="#262626" stroke-width="2.2" />
<line x1="163.37" y1="44.00" x2="163.37" y2="38.00" stroke="#262626" stroke-width="2.2" />
<line x1="163.37" y1="456.00" x2="163.37" y2="462.00" stroke="#262626" stroke-width="2.2" />
<line x1="182.55" y1="44.00" x2="182.55" y2="38.00" stroke="#262626" stroke-width="2.2" />
<line x1="182.55" y1="456.00" x2="182.55" y2="462.00" stroke="#262626" stroke-width="2.2" />
<line x1="201.73" y1="44.00" x2="201.73" y2="38.00" stroke="#262626" stroke-width="2.2" />
<line x1="201.73" y1="456.00" x2="201.73" y2="462.00" stroke="#262626" stroke-width="2.2" />
<line x1="220.92" y1="44.00" x2="220.92" y2="38.00" stroke="#262626" stroke-width="2.2" />
<line x1="220.92" y1="456.00" x2="220.92" y2="462.00" stroke="#262626" stroke-width="2.2" />
<line x1="240.10" y1="44.00" x2="240.10" y2="32.00" stroke="#262626" stroke-width="2.2" />
<line x1="240.10" y1="456.00" x2="240.10" y2="468.00" stroke="#262626" stroke-width="2.2" />
<line x1="259.28" y1="44.00" x2="259.28" y2="38.00" stroke="#262626" stroke-width="2.2" />
<line x1="259.28" y1="456.00" x2="259.28" y2="462.00" stroke="#262626" stroke-width="2.2" />
<line x1="278.47" y1="44.00" x2="278.47" y2="38.00" stroke="#262626" stroke-width="2.2" />
<line x1="278.47" y1="456.00" x2="278.47" y2="462.00" stroke="#262626" stroke-width="2.2" />
<line x1="297.65" y1="44.00" x2="297.65" y2="38.00" stroke="#262626" stroke-width="2.2" />
<line x1="297.65" y1="456.00" x2="297.65" y2="462.00" stroke="#262626" stroke-width="2.2" />
<line x1="316.83" y1="44.00" x2="316.83" y2="38.00" stroke="#262626" stroke-width="2.2" />
<line x1="316.83" y1="456.00" x2="316.83" y2="462.00" stroke="#262626" stroke-width="2.2" />
<line x1="336.02" y1="44.00" x2="336.02" y2="38.00" stroke="#262626" stroke-width="2.2" />
<line x1="336.02" y1="456.00" x2="336.02" y2="462.00" stroke="#262626" stroke-width="2.2" />
<line x1="355.20" y1="44.00" x2="355.20" y2="32.00" stroke="#262626" stroke-width="2.2" />
<line x1="355.20" y1="456.00" x2="355.20" y2="468.00" stroke="#262626" stroke-width="2.2" />
<line x1="374.38" y1="44.00" x2="374.38" y2="38.00" stroke="#262626" stroke-width="2.2" />
<line x1="374.38" y1="456.00" x2="374.38" y2="462.00" stroke="#262626" stroke-width="2.2" />
<line x1="393.57" y1="44.00" x2="393.57" y2="38.00" stroke="#262626" stroke-width="2.2" />
<line x1="393.57" y1="456.00" x2="393.57" y2="462.00" stroke="#262626" stroke-width="2.2" />
<line x1="412.75" y1="44.00" x2="412.75" y2="38.00" stroke="#262626" stroke-width="2.2" />
<line x1="412.75" y1="456.00" x2="412.75" y2="462.00" stroke="#262626" stroke-width="2.2" />
<line x1="431.93" y1="44.00" x2="431.93" y2="38.00" stroke="#262626" stroke-width="2.2" />
<line x1="431.93" y1="456.00" x2="431.93" y2="462.00" stroke="#262626" stroke-width="2.2" />
<line x1="451.12" y1="44.00" x2="451.12" y2="38.00" stroke="#262626" stroke-width="2.2" />
<line x1="451.12" y1="456.00" x2="451.12" y2="462.00" stroke="#262626" stroke-width="2.2" />
<line x1="470.30" y1="44.00" x2="470.30" y2="32.00" stroke="#262626" stroke-width="2.2" />
<line x1="470.30" y1="456.00" x2="470.30" y2="468.00" stroke="#262626" stroke-width="2.2" />
<line x1="489.48" y1="44.00" x2="489.48" y2="38.00" stroke="#262626" stroke-width="2.2" />
<line x1="489.48" y1="456.00" x2="489.48" y2="462.00" stroke="#262626" stroke-width="2.2" />
<line x1="508.67" y1="44.00" x2="508.67" y2="38.00" stroke="#262626" stroke-width="2.2" />
<line x1="508.67" y1="456.00" x2="508.67" y2="462.00" stroke="#262626" stroke-width="2.2" />
<line x1="527.85" y1="44.00" x2="527.85" y2="38.00" stroke="#262626" stroke-width="2.2" />
<line x1="527.85" y1="456.00" x2="527.85" y2="462.00" stroke="#262626" stroke-width="2.2" />
<line x1="547.03" y1="44.00" x2="547.03" y2="38.00" stroke="#262626" stroke-width="2.2" />
<line x1="547.03" y1="456.00" x2="547.03" y2="462.00" stroke="#262626" stroke-width="2.2" />
<line x1="566.22" y1="44.00" x2="566.22" y2="38.00" stroke="#262626" stroke-width="2.2" />
<line x1="566.22" y1="456.00" x2="566.22" y2="462.00" stroke="#262626" stroke-width="2.2" />
<line x1="585.40" y1="44.00" x2="585.40" y2="32.00" stroke="#262626" stroke-width="2.2" />
<line x1="585.40" y1="456.00" x2="585.40" y2="468.00" stroke="#262626" stroke-width="2.2" />
<line x1="604.58" y1="44.00" x2="604.58" y2="38.00" stroke="#262626" stroke-width="2.2" />
<line x1="604.58" y1="456.00" x2="604.58" y2="462.00" stroke="#262626" stroke-width="2.2" />
<line x1="623.77" y1="44.00" x2="623.77" y2="38.00" stroke="#262626" stroke-width="2.2" />
<line x1="623.77" y1="456.00" x2="623.77" y2="462.00" stroke="#262626" stroke-width="2.2" />
<line x1="642.95" y1="44.00" x2="642.95" y2="38.00" stroke="#262626" stroke-width="2.2" />
<line x1="642.95" y1="456.00" x2="642.95" y2="462.00" stroke="#262626" stroke-width="2.2" />
<line x1="662.13" y1="44.00" x2="662.13" y2="38.00" stroke="#262626" stroke-width="2.2" />
<line x1="662.13" y1="456.00" x2="662.13" y2="462.00" stroke="#262626" stroke-width="2.2" />
<line x1="681.32" y1="44.00" x2="681.32" y2="38.00" stroke="#262626" stroke-width="2.2" />
<line x1="681.32" y1="456.00" x2="681.32" y2="462.00" stroke="#262626" stroke-width="2.2" />
<line x1="700.50" y1="44.00" x2="700.50" y2="32.00" stroke="#262626" stroke-width="2.2" />
<line x1="700.50" y1="456.00" x2="700.50" y2="468.00" stroke="#262626" stroke-width="2.2" />
<line x1="719.68" y1="44.00" x2="719.68" y2="38.00" stroke="#262626" stroke-width="2.2" />
<line x1="719.68" y1="456.00" x2="719.68" y2="462.00" stroke="#262626" stroke-width="2.2" />
<line x1="738.87" y1="44.00" x2="738.87" y2="38.00" stroke="#262626" stroke-width="2.2" />
<line x1="738.87" y1="456.00" x2="738.87" y2="462.00" stroke="#262626" stroke-width="2.2" />
<line x1="758.05" y1="44.00" x2="758.05" y2="38.00" stroke="#262626" stroke-width="2.2" />
<line x1="758.05" y1="456.00" x2="758.05" y2="462.00" stroke="#262626" stroke-width="2.2" />
<line x1="777.23" y1="44.00" x2="777.23" y2="38.00" stroke="#262626" stroke-width="2.2" />
<line x1="777.23" y1="456.00" x2="777.23" y2="462.00" stroke="#262626" stroke-width="2.2" />
<line x1="796.42" y1="44.00" x2="796.42" y2="38.00" stroke="#262626" stroke-width="2.2" />
<line x1="796.42" y1="456.00" x2="796.42" y2="462.00" stroke="#262626" stroke-width="2.2" />
<line x1="815.60" y1="44.00" x2="815.60" y2="32.00" stroke="#262626" stroke-width="2.2" />
<line x1="815.60" y1="456.00" x2="815.60" y2="468.00" stroke="#262626" stroke-width="2.2" />
<line x1="834.78" y1="44.00" x2="834.78" y2="38.00" stroke="#262626" stroke-width="2.2" />
<line x1="834.78" y1="456.00" x2="834.78" y2="462.00" stroke="#262626" stroke-width="2.2" />
<line x1="853.97" y1="44.00" x2="853.97" y2="38.00" stroke="#262626" stroke-width="2.2" />
<line x1="853.97" y1="456.00" x2="853.97" y2="462.00" stroke="#262626" stroke-width="2.2" />
<line x1="873.15" y1="44.00" x2="873.15" y2="38.00" stroke="#262626" stroke-width="2.2" />
<line x1="873.15" y1="456.00" x2="873.15" y2="462.00" stroke="#262626" stroke-width="2.2" />
<line x1="892.33" y1="44.00" x2="892.33" y2="38.00" stroke="#262626" stroke-width="2.2" />
<line x1="892.33" y1="456.00" x2="892.33" y2="462.00" stroke="#262626" stroke-width="2.2" />
<line x1="911.52" y1="44.00" x2="911.52" y2="38.00" stroke="#262626" stroke-width="2.2" />
<line x1="911.52" y1="456.00" x2="911.52" y2="462.00" stroke="#262626" stroke-width="2.2" />
<line x1="930.70" y1="44.00" x2="930.70" y2="32.00" stroke="#262626" stroke-width="2.2" />
<line x1="930.70" y1="456.00" x2="930.70" y2="468.00" stroke="#262626" stroke-width="2.2" />
<line x1="949.88" y1="44.00" x2="949.88" y2="38.00" stroke="#262626" stroke-width="2.2" />
<line x1="949.88" y1="456.00" x2="949.88" y2="462.00" stroke="#262626" stroke-width="2.2" />
<line x1="969.07" y1="44.00" x2="969.07" y2="38.00" stroke="#262626" stroke-width="2.2" />
<line x1="969.07" y1="456.00" x2="969.07" y2="462.00" stroke="#262626" stroke-width="2.2" />
<line x1="988.25" y1="44.00" x2="988.25" y2="38.00" stroke="#262626" stroke-width="2.2" />
<line x1="988.25" y1="456.00" x2="988.25" y2="462.00" stroke="#262626" stroke-width="2.2" />
<line x1="1007.43" y1="44.00" x2="1007.43" y2="38.00" stroke="#262626" stroke-width="2.2" />
<line x1="1007.43" y1="456.00" x2="1007.43" y2="462.00" stroke="#262626" stroke-width="2.2" />
<line x1="1026.62" y1="44.00" x2="1026.62" y2="38.00" stroke="#262626" stroke-width="2.2" />
<line x1="1026.62" y1="456.00" x2="1026.62" y2="462.00" stroke="#262626" stroke-width="2.2" />
<line x1="1045.80" y1="44.00" x2="1045.80" y2="32.00" stroke="#262626" stroke-width="2.2" />
<line x1="1045.80" y1="456.00" x2="1045.80" y2="468.00" stroke="#262626" stroke-width="2.2" />
<line x1="1064.98" y1="44.00" x2="1064.98" y2="38.00" stroke="#262626" stroke-width="2.2" />
<line x1="1064.98" y1="456.00" x2="1064.98" y2="462.00" stroke="#262626" stroke-width="2.2" />
<line x1="1084.17" y1="44.00" x2="1084.17" y2="38.00" stroke="#262626" stroke-width="2.2" />
<line x1="1084.17" y1="456.00" x2="1084.17" y2="462.00" stroke="#262626" stroke-width="2.2" />
<line x1="1103.35" y1="44.00" x2="1103.35" y2="38.00" stroke="#262626" stroke-width="2.2" />
<line x1="1103.35" y1="456.00" x2="1103.35" y2="462.00" stroke="#262626" stroke-width="2.2" />
<line x1="1122.53" y1="44.00" x2="1122.53" y2="38.00" stroke="#262626" stroke-width="2.2" />
<line x1="1122.53" y1="456.00" x2="1122.53" y2="462.00" stroke="#262626" stroke-width="2.2" />
<line x1="1141.72" y1="44.00" x2="1141.72" y2="38.00" stroke="#262626" stroke-width="2.2" />
<line x1="1141.72" y1="456.00" x2="1141.72" y2="462.00" stroke="#262626" stroke-width="2.2" />
<line x1="1160.90" y1="44.00" x2="1160.90" y2="32.00" stroke="#262626" stroke-width="2.2" />
<line x1="1160.90" y1="456.00" x2="1160.90" y2="468.00" stroke="#262626" stroke-width="2.2" />
<line x1="1180.08" y1="44.00" x2="1180.08" y2="38.00" stroke="#262626" stroke-width="2.2" />
<line x1="1180.08" y1="456.00" x2="1180.08" y2="462.00" stroke="#262626" stroke-width="2.2" />
<line x1="1199.27" y1="44.00" x2="1199.27" y2="38.00" stroke="#262626" stroke-width="2.2" />
<line x1="1199.27" y1="456.00" x2="1199.27" y2="462.00" stroke="#262626" stroke-width="2.2" />
<line x1="1218.45" y1="44.00" x2="1218.45" y2="38.00" stroke="#262626" stroke-width="2.2" />
<line x1="1218.45" y1="456.00" x2="1218.45" y2="462.00" stroke="#262626" stroke-width="2.2" />
<line x1="1237.63" y1="44.00" x2="1237.63" y2="38.00" stroke="#262626" stroke-width="2.2" />
<line x1="1237.63" y1="456.00" x2="1237.63" y2="462.00" stroke="#262626" stroke-width="2.2" />
<line x1="1256.82" y1="44.00" x2="1256.82" y2="38.00" stroke="#262626" stroke-width="2.2" />
<line x1="1256.82" y1="456.00" x2="1256.82" y2="462.00" stroke="#262626" stroke-width="2.2" />
<line x1="1276.00" y1="44.00" x2="1276.00" y2="32.00" stroke="#262626" stroke-width="2.2" />
<line x1="1276.00" y1="456.00" x2="1276.00" y2="468.00" stroke="#262626" stroke-width="2.2" />
<line x1="125.00" y1="456.00" x2="113.00" y2="456.00" stroke="#000" stroke-width="2.2" />
<line x1="125.00" y1="404.50" x2="113.00" y2="404.50" stroke="#000" stroke-width="2.2" />
<line x1="125.00" y1="353.00" x2="113.00" y2="353.00" stroke="#000" stroke-width="2.2" />
<line x1="125.00" y1="301.50" x2="113.00" y2="301.50" stroke="#000" stroke-width="2.2" />
<line x1="125.00" y1="250.00" x2="113.00" y2="250.00" stroke="#000" stroke-width="2.2" />
<line x1="125.00" y1="198.50" x2="113.00" y2="198.50" stroke="#000" stroke-width="2.2" />
<line x1="125.00" y1="147.00" x2="113.00" y2="147.00" stroke="#000" stroke-width="2.2" />
<line x1="125.00" y1="95.50" x2="113.00" y2="95.50" stroke="#000" stroke-width="2.2" />
<line x1="125.00" y1="44.00" x2="113.00" y2="44.00" stroke="#000" stroke-width="2.2" />
<line x1="1276.00" y1="44.00" x2="1288.00" y2="44.00" stroke="#000" stroke-width="2.2" />
<line x1="1276.00" y1="147.00" x2="1288.00" y2="147.00" stroke="#000" stroke-width="2.2" />
<line x1="1276.00" y1="250.00" x2="1288.00" y2="250.00" stroke="#000" stroke-width="2.2" />
<line x1="1276.00" y1="353.00" x2="1288.00" y2="353.00" stroke="#000" stroke-width="2.2" />
<line x1="1276.00" y1="456.00" x2="1288.00" y2="456.00" stroke="#000" stroke-width="2.2" />
<text x="99.00" y="469.30" font-size="35" text-anchor="end" fill="#000" color="#000" font-weight="normal" >-4</text>
<text x="99.00" y="417.80" font-size="35" text-anchor="end" fill="#000" color="#000" font-weight="normal" >-3</text>
<text x="99.00" y="366.30" font-size="35" text-anchor="end" fill="#000" color="#000" font-weight="normal" >-2</text>
<text x="99.00" y="314.80" font-size="35" text-anchor="end" fill="#000" color="#000" font-weight="normal" >-1</text>
<text x="99.00" y="263.30" font-size="35" text-anchor="end" fill="#000" color="#000" font-weight="normal" >0</text>
<text x="99.00" y="211.80" font-size="35" text-anchor="end" fill="#000" color="#000" font-weight="normal" >1</text>
<text x="99.00" y="160.30" font-size="35" text-anchor="end" fill="#000" color="#000" font-weight="normal" >2</text>
<text x="99.00" y="108.80" font-size="35" text-anchor="end" fill="#000" color="#000" font-weight="normal" >3</text>
<text x="99.00" y="57.30" font-size="35" text-anchor="end" fill="#000" color="#000" font-weight="normal" >4</text>
<text x="1300.50" y="58.00" font-size="35" text-anchor="start" fill="#000" color="#000" font-weight="normal" >10</text>
<text x="1300.50" y="161.00" font-size="35" text-anchor="start" fill="#000" color="#000" font-weight="normal" >0</text>
<text x="1300.50" y="264.00" font-size="35" text-anchor="start" fill="#000" color="#000" font-weight="normal" >-10</text>
<text x="1300.50" y="367.00" font-size="35" text-anchor="start" fill="#000" color="#000" font-weight="normal" >-20</text>
<text x="1300.50" y="470.00" font-size="35" text-anchor="start" fill="#000" color="#000" font-weight="normal" >-30</text>
<text x="119.70" y="516.50" font-size="35" text-anchor="middle" fill="#262626" color="#262626" font-weight="normal" >0</text>
<text x="234.80" y="516.50" font-size="35" text-anchor="middle" fill="#262626" color="#262626" font-weight="normal" >5</text>
<text x="354.20" y="516.50" font-size="35" text-anchor="middle" fill="#262626" color="#262626" font-weight="normal" >10</text>
<text x="469.30" y="516.50" font-size="35" text-anchor="middle" fill="#262626" color="#262626" font-weight="normal" >15</text>
<text x="584.40" y="516.50" font-size="35" text-anchor="middle" fill="#262626" color="#262626" font-weight="normal" >20</text>
<text x="699.50" y="516.50" font-size="35" text-anchor="middle" fill="#262626" color="#262626" font-weight="normal" >25</text>
<text x="814.60" y="516.50" font-size="35" text-anchor="middle" fill="#262626" color="#262626" font-weight="normal" >30</text>
<text x="929.70" y="516.50" font-size="35" text-anchor="middle" fill="#262626" color="#262626" font-weight="normal" >35</text>
<text x="1044.80" y="516.50" font-size="35" text-anchor="middle" fill="#262626" color="#262626" font-weight="normal" >40</text>
<text x="1159.90" y="516.50" font-size="35" text-anchor="middle" fill="#262626" color="#262626" font-weight="normal" >45</text>
<text x="1275.00" y="516.50" font-size="35" text-anchor="middle" fill="#262626" color="#262626" font-weight="normal" >50</text>
<text x="140.00" y="24.20" font-size="30" text-anchor="start" fill="#000" color="#000" font-weight="bold" >A</text>
<text x="51.00" y="252.00" font-size="34.4" text-anchor="middle" fill="#000" color="#000" font-weight="normal" transform="rotate(-90 51 252)">T and H</text>
<text transform="translate(1397.5 293) rotate(-90)" font-size="36" fill="#000"><tspan x="0" y="0">SST</tspan><tspan font-size="28.5" dx="-4.6" dy="16.5">H</tspan></text>
<line x1="220.60" y1="352.60" x2="263.10" y2="352.60" stroke="#000" stroke-width="3" />
<text x="266.00" y="363.60" font-size="29.5" text-anchor="start" fill="#000" color="#000" font-weight="normal" >T</text>
<line x1="220.60" y1="388.50" x2="263.10" y2="388.50" stroke="#0000ff" stroke-width="3" />
<text x="266.00" y="399.50" font-size="29.5" text-anchor="start" fill="#0000ff" color="#0000ff" font-weight="normal" >H</text>
<line x1="220.60" y1="424.40" x2="263.10" y2="424.40" stroke="#dd0000" stroke-width="3" />
<text x="266" y="437.00" font-size="29.5" fill="#dd0000" color="#dd0000">SST<tspan font-size="25" dy="14.6">H</tspan></text>
<line x1="125.00" y1="893.75" x2="629.00" y2="893.75" stroke="#dcdcdc" stroke-width="2" stroke-dasharray="20.2 12.7" stroke-dashoffset="10"/>
<line x1="125.00" y1="846.50" x2="629.00" y2="846.50" stroke="#dcdcdc" stroke-width="2" stroke-dasharray="20.2 12.7" stroke-dashoffset="10"/>
<line x1="125.00" y1="799.25" x2="629.00" y2="799.25" stroke="#dcdcdc" stroke-width="2" stroke-dasharray="20.2 12.7" stroke-dashoffset="10"/>
<line x1="125.00" y1="752.00" x2="629.00" y2="752.00" stroke="#dcdcdc" stroke-width="2" stroke-dasharray="20.2 12.7" stroke-dashoffset="10"/>
<line x1="125.00" y1="704.75" x2="629.00" y2="704.75" stroke="#dcdcdc" stroke-width="2" stroke-dasharray="20.2 12.7" stroke-dashoffset="10"/>
<line x1="125.00" y1="657.50" x2="629.00" y2="657.50" stroke="#dcdcdc" stroke-width="2" stroke-dasharray="20.2 12.7" stroke-dashoffset="10"/>
<line x1="125.00" y1="610.25" x2="629.00" y2="610.25" stroke="#dcdcdc" stroke-width="2" stroke-dasharray="20.2 12.7" stroke-dashoffset="10"/>
<line x1="181.00" y1="563.00" x2="181.00" y2="941.00" stroke="#dcdcdc" stroke-width="2" stroke-dasharray="20.2 12.7" stroke-dashoffset="2.8"/>
<line x1="237.00" y1="563.00" x2="237.00" y2="941.00" stroke="#dcdcdc" stroke-width="2" stroke-dasharray="20.2 12.7" stroke-dashoffset="2.8"/>
<line x1="293.00" y1="563.00" x2="293.00" y2="941.00" stroke="#dcdcdc" stroke-width="2" stroke-dasharray="20.2 12.7" stroke-dashoffset="2.8"/>
<line x1="349.00" y1="563.00" x2="349.00" y2="941.00" stroke="#dcdcdc" stroke-width="2" stroke-dasharray="20.2 12.7" stroke-dashoffset="2.8"/>
<line x1="405.00" y1="563.00" x2="405.00" y2="941.00" stroke="#dcdcdc" stroke-width="2" stroke-dasharray="20.2 12.7" stroke-dashoffset="2.8"/>
<line x1="461.00" y1="563.00" x2="461.00" y2="941.00" stroke="#dcdcdc" stroke-width="2" stroke-dasharray="20.2 12.7" stroke-dashoffset="2.8"/>
<line x1="517.00" y1="563.00" x2="517.00" y2="941.00" stroke="#dcdcdc" stroke-width="2" stroke-dasharray="20.2 12.7" stroke-dashoffset="2.8"/>
<line x1="573.00" y1="563.00" x2="573.00" y2="941.00" stroke="#dcdcdc" stroke-width="2" stroke-dasharray="20.2 12.7" stroke-dashoffset="2.8"/>
<polyline points="125.0,794.5 153.0,743.0 181.0,695.5 209.0,657.5 237.0,631.3 265.0,615.0 293.0,610.2 321.0,614.3 349.0,628.7 377.0,651.6 405.0,683.3 433.0,718.7 461.0,757.2 489.0,798.3 517.0,838.2 545.0,872.5 573.0,896.6 601.0,913.6 629.0,920.7" fill="none" stroke="#dd0000" stroke-width="9.6" stroke-linejoin="miter"/>
<polyline points="125.0,794.5 153.0,743.0 181.0,695.5 209.0,657.5 237.0,631.3 265.0,615.0 293.0,610.2 321.0,614.3 349.0,628.7 377.0,651.6 405.0,683.3 433.0,718.7 461.0,757.2 489.0,798.3 517.0,838.2 545.0,872.5 573.0,896.6 601.0,913.6 629.0,920.7" fill="none" stroke="#0000ff" stroke-width="3.8" stroke-linejoin="miter"/>

<rect x="125.0" y="563.0" width="504.0" height="378.0" fill="none" stroke="#262626" stroke-width="2"/>
<line x1="125.00" y1="563.00" x2="125.00" y2="557.00" stroke="#262626" stroke-width="2" />
<line x1="125.00" y1="941.00" x2="125.00" y2="947.00" stroke="#262626" stroke-width="2" />
<line x1="139.00" y1="563.00" x2="139.00" y2="559.50" stroke="#262626" stroke-width="2" />
<line x1="139.00" y1="941.00" x2="139.00" y2="944.50" stroke="#262626" stroke-width="2" />
<line x1="153.00" y1="563.00" x2="153.00" y2="559.50" stroke="#262626" stroke-width="2" />
<line x1="153.00" y1="941.00" x2="153.00" y2="944.50" stroke="#262626" stroke-width="2" />
<line x1="167.00" y1="563.00" x2="167.00" y2="559.50" stroke="#262626" stroke-width="2" />
<line x1="167.00" y1="941.00" x2="167.00" y2="944.50" stroke="#262626" stroke-width="2" />
<line x1="181.00" y1="563.00" x2="181.00" y2="557.00" stroke="#262626" stroke-width="2" />
<line x1="181.00" y1="941.00" x2="181.00" y2="947.00" stroke="#262626" stroke-width="2" />
<line x1="195.00" y1="563.00" x2="195.00" y2="559.50" stroke="#262626" stroke-width="2" />
<line x1="195.00" y1="941.00" x2="195.00" y2="944.50" stroke="#262626" stroke-width="2" />
<line x1="209.00" y1="563.00" x2="209.00" y2="559.50" stroke="#262626" stroke-width="2" />
<line x1="209.00" y1="941.00" x2="209.00" y2="944.50" stroke="#262626" stroke-width="2" />
<line x1="223.00" y1="563.00" x2="223.00" y2="559.50" stroke="#262626" stroke-width="2" />
<line x1="223.00" y1="941.00" x2="223.00" y2="944.50" stroke="#262626" stroke-width="2" />
<line x1="237.00" y1="563.00" x2="237.00" y2="557.00" stroke="#262626" stroke-width="2" />
<line x1="237.00" y1="941.00" x2="237.00" y2="947.00" stroke="#262626" stroke-width="2" />
<line x1="251.00" y1="563.00" x2="251.00" y2="559.50" stroke="#262626" stroke-width="2" />
<line x1="251.00" y1="941.00" x2="251.00" y2="944.50" stroke="#262626" stroke-width="2" />
<line x1="265.00" y1="563.00" x2="265.00" y2="559.50" stroke="#262626" stroke-width="2" />
<line x1="265.00" y1="941.00" x2="265.00" y2="944.50" stroke="#262626" stroke-width="2" />
<line x1="279.00" y1="563.00" x2="279.00" y2="559.50" stroke="#262626" stroke-width="2" />
<line x1="279.00" y1="941.00" x2="279.00" y2="944.50" stroke="#262626" stroke-width="2" />
<line x1="293.00" y1="563.00" x2="293.00" y2="557.00" stroke="#262626" stroke-width="2" />
<line x1="293.00" y1="941.00" x2="293.00" y2="947.00" stroke="#262626" stroke-width="2" />
<line x1="307.00" y1="563.00" x2="307.00" y2="559.50" stroke="#262626" stroke-width="2" />
<line x1="307.00" y1="941.00" x2="307.00" y2="944.50" stroke="#262626" stroke-width="2" />
<line x1="321.00" y1="563.00" x2="321.00" y2="559.50" stroke="#262626" stroke-width="2" />
<line x1="321.00" y1="941.00" x2="321.00" y2="944.50" stroke="#262626" stroke-width="2" />
<line x1="335.00" y1="563.00" x2="335.00" y2="559.50" stroke="#262626" stroke-width="2" />
<line x1="335.00" y1="941.00" x2="335.00" y2="944.50" stroke="#262626" stroke-width="2" />
<line x1="349.00" y1="563.00" x2="349.00" y2="557.00" stroke="#262626" stroke-width="2" />
<line x1="349.00" y1="941.00" x2="349.00" y2="947.00" stroke="#262626" stroke-width="2" />
<line x1="363.00" y1="563.00" x2="363.00" y2="559.50" stroke="#262626" stroke-width="2" />
<line x1="363.00" y1="941.00" x2="363.00" y2="944.50" stroke="#262626" stroke-width="2" />
<line x1="377.00" y1="563.00" x2="377.00" y2="559.50" stroke="#262626" stroke-width="2" />
<line x1="377.00" y1="941.00" x2="377.00" y2="944.50" stroke="#262626" stroke-width="2" />
<line x1="391.00" y1="563.00" x2="391.00" y2="559.50" stroke="#262626" stroke-width="2" />
<line x1="391.00" y1="941.00" x2="391.00" y2="944.50" stroke="#262626" stroke-width="2" />
<line x1="405.00" y1="563.00" x2="405.00" y2="557.00" stroke="#262626" stroke-width="2" />
<line x1="405.00" y1="941.00" x2="405.00" y2="947.00" stroke="#262626" stroke-width="2" />
<line x1="419.00" y1="563.00" x2="419.00" y2="559.50" stroke="#262626" stroke-width="2" />
<line x1="419.00" y1="941.00" x2="419.00" y2="944.50" stroke="#262626" stroke-width="2" />
<line x1="433.00" y1="563.00" x2="433.00" y2="559.50" stroke="#262626" stroke-width="2" />
<line x1="433.00" y1="941.00" x2="433.00" y2="944.50" stroke="#262626" stroke-width="2" />
<line x1="447.00" y1="563.00" x2="447.00" y2="559.50" stroke="#262626" stroke-width="2" />
<line x1="447.00" y1="941.00" x2="447.00" y2="944.50" stroke="#262626" stroke-width="2" />
<line x1="461.00" y1="563.00" x2="461.00" y2="557.00" stroke="#262626" stroke-width="2" />
<line x1="461.00" y1="941.00" x2="461.00" y2="947.00" stroke="#262626" stroke-width="2" />
<line x1="475.00" y1="563.00" x2="475.00" y2="559.50" stroke="#262626" stroke-width="2" />
<line x1="475.00" y1="941.00" x2="475.00" y2="944.50" stroke="#262626" stroke-width="2" />
<line x1="489.00" y1="563.00" x2="489.00" y2="559.50" stroke="#262626" stroke-width="2" />
<line x1="489.00" y1="941.00" x2="489.00" y2="944.50" stroke="#262626" stroke-width="2" />
<line x1="503.00" y1="563.00" x2="503.00" y2="559.50" stroke="#262626" stroke-width="2" />
<line x1="503.00" y1="941.00" x2="503.00" y2="944.50" stroke="#262626" stroke-width="2" />
<line x1="517.00" y1="563.00" x2="517.00" y2="557.00" stroke="#262626" stroke-width="2" />
<line x1="517.00" y1="941.00" x2="517.00" y2="947.00" stroke="#262626" stroke-width="2" />
<line x1="531.00" y1="563.00" x2="531.00" y2="559.50" stroke="#262626" stroke-width="2" />
<line x1="531.00" y1="941.00" x2="531.00" y2="944.50" stroke="#262626" stroke-width="2" />
<line x1="545.00" y1="563.00" x2="545.00" y2="559.50" stroke="#262626" stroke-width="2" />
<line x1="545.00" y1="941.00" x2="545.00" y2="944.50" stroke="#262626" stroke-width="2" />
<line x1="559.00" y1="563.00" x2="559.00" y2="559.50" stroke="#262626" stroke-width="2" />
<line x1="559.00" y1="941.00" x2="559.00" y2="944.50" stroke="#262626" stroke-width="2" />
<line x1="573.00" y1="563.00" x2="573.00" y2="557.00" stroke="#262626" stroke-width="2" />
<line x1="573.00" y1="941.00" x2="573.00" y2="947.00" stroke="#262626" stroke-width="2" />
<line x1="587.00" y1="563.00" x2="587.00" y2="559.50" stroke="#262626" stroke-width="2" />
<line x1="587.00" y1="941.00" x2="587.00" y2="944.50" stroke="#262626" stroke-width="2" />
<line x1="601.00" y1="563.00" x2="601.00" y2="559.50" stroke="#262626" stroke-width="2" />
<line x1="601.00" y1="941.00" x2="601.00" y2="944.50" stroke="#262626" stroke-width="2" />
<line x1="615.00" y1="563.00" x2="615.00" y2="559.50" stroke="#262626" stroke-width="2" />
<line x1="615.00" y1="941.00" x2="615.00" y2="944.50" stroke="#262626" stroke-width="2" />
<line x1="629.00" y1="563.00" x2="629.00" y2="557.00" stroke="#262626" stroke-width="2" />
<line x1="629.00" y1="941.00" x2="629.00" y2="947.00" stroke="#262626" stroke-width="2" />
<line x1="125.00" y1="563.00" x2="119.00" y2="563.00" stroke="#262626" stroke-width="2" />
<line x1="629.00" y1="563.00" x2="635.00" y2="563.00" stroke="#262626" stroke-width="2" />
<line x1="125.00" y1="574.81" x2="121.50" y2="574.81" stroke="#262626" stroke-width="2" />
<line x1="629.00" y1="574.81" x2="632.50" y2="574.81" stroke="#262626" stroke-width="2" />
<line x1="125.00" y1="586.62" x2="121.50" y2="586.62" stroke="#262626" stroke-width="2" />
<line x1="629.00" y1="586.62" x2="632.50" y2="586.62" stroke="#262626" stroke-width="2" />
<line x1="125.00" y1="598.44" x2="121.50" y2="598.44" stroke="#262626" stroke-width="2" />
<line x1="629.00" y1="598.44" x2="632.50" y2="598.44" stroke="#262626" stroke-width="2" />
<line x1="125.00" y1="610.25" x2="119.00" y2="610.25" stroke="#262626" stroke-width="2" />
<line x1="629.00" y1="610.25" x2="635.00" y2="610.25" stroke="#262626" stroke-width="2" />
<line x1="125.00" y1="622.06" x2="121.50" y2="622.06" stroke="#262626" stroke-width="2" />
<line x1="629.00" y1="622.06" x2="632.50" y2="622.06" stroke="#262626" stroke-width="2" />
<line x1="125.00" y1="633.88" x2="121.50" y2="633.88" stroke="#262626" stroke-width="2" />
<line x1="629.00" y1="633.88" x2="632.50" y2="633.88" stroke="#262626" stroke-width="2" />
<line x1="125.00" y1="645.69" x2="121.50" y2="645.69" stroke="#262626" stroke-width="2" />
<line x1="629.00" y1="645.69" x2="632.50" y2="645.69" stroke="#262626" stroke-width="2" />
<line x1="125.00" y1="657.50" x2="119.00" y2="657.50" stroke="#262626" stroke-width="2" />
<line x1="629.00" y1="657.50" x2="635.00" y2="657.50" stroke="#262626" stroke-width="2" />
<line x1="125.00" y1="669.31" x2="121.50" y2="669.31" stroke="#262626" stroke-width="2" />
<line x1="629.00" y1="669.31" x2="632.50" y2="669.31" stroke="#262626" stroke-width="2" />
<line x1="125.00" y1="681.12" x2="121.50" y2="681.12" stroke="#262626" stroke-width="2" />
<line x1="629.00" y1="681.12" x2="632.50" y2="681.12" stroke="#262626" stroke-width="2" />
<line x1="125.00" y1="692.94" x2="121.50" y2="692.94" stroke="#262626" stroke-width="2" />
<line x1="629.00" y1="692.94" x2="632.50" y2="692.94" stroke="#262626" stroke-width="2" />
<line x1="125.00" y1="704.75" x2="119.00" y2="704.75" stroke="#262626" stroke-width="2" />
<line x1="629.00" y1="704.75" x2="635.00" y2="704.75" stroke="#262626" stroke-width="2" />
<line x1="125.00" y1="716.56" x2="121.50" y2="716.56" stroke="#262626" stroke-width="2" />
<line x1="629.00" y1="716.56" x2="632.50" y2="716.56" stroke="#262626" stroke-width="2" />
<line x1="125.00" y1="728.38" x2="121.50" y2="728.38" stroke="#262626" stroke-width="2" />
<line x1="629.00" y1="728.38" x2="632.50" y2="728.38" stroke="#262626" stroke-width="2" />
<line x1="125.00" y1="740.19" x2="121.50" y2="740.19" stroke="#262626" stroke-width="2" />
<line x1="629.00" y1="740.19" x2="632.50" y2="740.19" stroke="#262626" stroke-width="2" />
<line x1="125.00" y1="752.00" x2="119.00" y2="752.00" stroke="#262626" stroke-width="2" />
<line x1="629.00" y1="752.00" x2="635.00" y2="752.00" stroke="#262626" stroke-width="2" />
<line x1="125.00" y1="763.81" x2="121.50" y2="763.81" stroke="#262626" stroke-width="2" />
<line x1="629.00" y1="763.81" x2="632.50" y2="763.81" stroke="#262626" stroke-width="2" />
<line x1="125.00" y1="775.62" x2="121.50" y2="775.62" stroke="#262626" stroke-width="2" />
<line x1="629.00" y1="775.62" x2="632.50" y2="775.62" stroke="#262626" stroke-width="2" />
<line x1="125.00" y1="787.44" x2="121.50" y2="787.44" stroke="#262626" stroke-width="2" />
<line x1="629.00" y1="787.44" x2="632.50" y2="787.44" stroke="#262626" stroke-width="2" />
<line x1="125.00" y1="799.25" x2="119.00" y2="799.25" stroke="#262626" stroke-width="2" />
<line x1="629.00" y1="799.25" x2="635.00" y2="799.25" stroke="#262626" stroke-width="2" />
<line x1="125.00" y1="811.06" x2="121.50" y2="811.06" stroke="#262626" stroke-width="2" />
<line x1="629.00" y1="811.06" x2="632.50" y2="811.06" stroke="#262626" stroke-width="2" />
<line x1="125.00" y1="822.88" x2="121.50" y2="822.88" stroke="#262626" stroke-width="2" />
<line x1="629.00" y1="822.88" x2="632.50" y2="822.88" stroke="#262626" stroke-width="2" />
<line x1="125.00" y1="834.69" x2="121.50" y2="834.69" stroke="#262626" stroke-width="2" />
<line x1="629.00" y1="834.69" x2="632.50" y2="834.69" stroke="#262626" stroke-width="2" />
<line x1="125.00" y1="846.50" x2="119.00" y2="846.50" stroke="#262626" stroke-width="2" />
<line x1="629.00" y1="846.50" x2="635.00" y2="846.50" stroke="#262626" stroke-width="2" />
<line x1="125.00" y1="858.31" x2="121.50" y2="858.31" stroke="#262626" stroke-width="2" />
<line x1="629.00" y1="858.31" x2="632.50" y2="858.31" stroke="#262626" stroke-width="2" />
<line x1="125.00" y1="870.12" x2="121.50" y2="870.12" stroke="#262626" stroke-width="2" />
<line x1="629.00" y1="870.12" x2="632.50" y2="870.12" stroke="#262626" stroke-width="2" />
<line x1="125.00" y1="881.94" x2="121.50" y2="881.94" stroke="#262626" stroke-width="2" />
<line x1="629.00" y1="881.94" x2="632.50" y2="881.94" stroke="#262626" stroke-width="2" />
<line x1="125.00" y1="893.75" x2="119.00" y2="893.75" stroke="#262626" stroke-width="2" />
<line x1="629.00" y1="893.75" x2="635.00" y2="893.75" stroke="#262626" stroke-width="2" />
<line x1="125.00" y1="905.56" x2="121.50" y2="905.56" stroke="#262626" stroke-width="2" />
<line x1="629.00" y1="905.56" x2="632.50" y2="905.56" stroke="#262626" stroke-width="2" />
<line x1="125.00" y1="917.38" x2="121.50" y2="917.38" stroke="#262626" stroke-width="2" />
<line x1="629.00" y1="917.38" x2="632.50" y2="917.38" stroke="#262626" stroke-width="2" />
<line x1="125.00" y1="929.19" x2="121.50" y2="929.19" stroke="#262626" stroke-width="2" />
<line x1="629.00" y1="929.19" x2="632.50" y2="929.19" stroke="#262626" stroke-width="2" />
<line x1="125.00" y1="941.00" x2="119.00" y2="941.00" stroke="#262626" stroke-width="2" />
<line x1="629.00" y1="941.00" x2="635.00" y2="941.00" stroke="#262626" stroke-width="2" />
<text x="104.50" y="954.30" font-size="35" text-anchor="end" fill="#262626" color="#262626" font-weight="normal" >-0.6</text>
<text x="104.50" y="907.05" font-size="35" text-anchor="end" fill="#262626" color="#262626" font-weight="normal" >-0.4</text>
<text x="104.50" y="859.80" font-size="35" text-anchor="end" fill="#262626" color="#262626" font-weight="normal" >-0.2</text>
<text x="104.50" y="812.55" font-size="35" text-anchor="end" fill="#262626" color="#262626" font-weight="normal" >0</text>
<text x="104.50" y="765.30" font-size="35" text-anchor="end" fill="#262626" color="#262626" font-weight="normal" >0.2</text>
<text x="104.50" y="718.05" font-size="35" text-anchor="end" fill="#262626" color="#262626" font-weight="normal" >0.4</text>
<text x="104.50" y="670.80" font-size="35" text-anchor="end" fill="#262626" color="#262626" font-weight="normal" >0.6</text>
<text x="104.50" y="623.55" font-size="35" text-anchor="end" fill="#262626" color="#262626" font-weight="normal" >0.8</text>
<text x="104.50" y="576.30" font-size="35" text-anchor="end" fill="#262626" color="#262626" font-weight="normal" >1</text>
<text x="119.70" y="996.00" font-size="35" text-anchor="middle" fill="#262626" color="#262626" font-weight="normal" >0</text>
<text x="175.70" y="996.00" font-size="35" text-anchor="middle" fill="#262626" color="#262626" font-weight="normal" >2</text>
<text x="231.70" y="996.00" font-size="35" text-anchor="middle" fill="#262626" color="#262626" font-weight="normal" >4</text>
<text x="287.70" y="996.00" font-size="35" text-anchor="middle" fill="#262626" color="#262626" font-weight="normal" >6</text>
<text x="343.70" y="996.00" font-size="35" text-anchor="middle" fill="#262626" color="#262626" font-weight="normal" >8</text>
<text x="404.50" y="996.00" font-size="35" text-anchor="middle" fill="#262626" color="#262626" font-weight="normal" >10</text>
<text x="460.50" y="996.00" font-size="35" text-anchor="middle" fill="#262626" color="#262626" font-weight="normal" >12</text>
<text x="516.50" y="996.00" font-size="35" text-anchor="middle" fill="#262626" color="#262626" font-weight="normal" >14</text>
<text x="572.50" y="996.00" font-size="35" text-anchor="middle" fill="#262626" color="#262626" font-weight="normal" >16</text>
<text x="628.50" y="996.00" font-size="35" text-anchor="middle" fill="#262626" color="#262626" font-weight="normal" >18</text>
<text x="376.00" y="1042.00" font-size="34.4" text-anchor="middle" fill="#262626" color="#262626" font-weight="normal" >H leads T (month)</text>
<text x="28.00" y="752.00" font-size="34.4" text-anchor="middle" fill="#262626" color="#262626" font-weight="normal" transform="rotate(-90 28 752)">R</text>
<text x="139.00" y="554.50" font-size="30" text-anchor="start" fill="#000" color="#000" font-weight="bold" >B</text>
<path d="M731.2 906.5L728.7 904.0L728.7 906.5L728.7 941.0L736.7 941.0ZM1177.4 906.5L1205.5 929.5L1216.7 941.0L1233.5 941.0L1233.5 906.5L1233.5 872.1L1233.5 837.6L1233.5 803.2L1233.5 777.3L1219.5 768.7L1205.5 763.0L1177.4 764.4L1170.4 768.7L1159.9 803.2L1149.4 837.6L1149.4 837.6L1149.4 837.6L1149.4 837.6L1177.4 827.8L1184.4 837.6L1177.4 860.6L1170.4 872.1L1177.4 906.5ZM1191.4 872.1L1205.5 867.2L1209.5 872.1L1205.5 879.0Z" fill="#5a86fc" stroke="#5a86fc" stroke-width="0.6" fill-rule="evenodd"/>
<path d="M739.7 906.5L728.7 895.6L728.7 904.0L731.2 906.5L736.7 941.0L746.7 941.0ZM1177.4 929.5L1188.2 941.0L1205.5 941.0L1216.7 941.0L1205.5 929.5L1177.4 906.5L1177.4 906.5L1170.4 872.1L1177.4 860.6L1184.4 837.6L1177.4 827.8L1149.4 837.6L1149.4 837.6L1149.4 837.6L1149.4 837.6L1159.9 803.2L1170.4 768.7L1177.4 764.4L1205.5 763.0L1219.5 768.7L1233.5 777.3L1233.5 768.7L1233.5 734.3L1233.5 734.3L1205.5 734.3L1177.4 723.9L1149.4 711.3L1121.3 699.8L1121.3 699.8L1121.3 699.8L1093.3 734.3L1065.2 725.7L1037.2 726.6L1035.1 734.3L1037.2 738.3L1058.2 768.7L1065.2 777.3L1086.3 803.2L1093.3 811.8L1114.3 837.6L1121.3 846.2L1140.4 872.1L1149.4 881.0L1168.1 906.5ZM1205.5 879.0L1209.5 872.1L1205.5 867.2L1191.4 872.1ZM728.7 562.0L728.7 562.0L728.7 562.0Z" fill="#78aefc" stroke="#78aefc" stroke-width="0.6" fill-rule="evenodd"/>
<path d="M756.7 941.0L756.7 941.0L756.7 941.0L748.2 906.5L728.7 887.2L728.7 895.6L739.7 906.5L746.7 941.0ZM1177.4 941.0L1188.2 941.0L1177.4 929.5L1168.1 906.5L1149.4 881.0L1140.4 872.1L1121.3 846.2L1114.3 837.6L1093.3 811.8L1086.3 803.2L1065.2 777.3L1058.2 768.7L1037.2 738.3L1035.1 734.3L1037.2 726.6L1065.2 725.7L1093.3 734.3L1121.3 699.8L1121.3 699.8L1121.3 699.8L1149.4 711.3L1177.4 723.9L1205.5 734.3L1233.5 734.3L1233.5 717.0L1208.0 699.8L1205.5 698.6L1177.4 694.9L1149.4 689.8L1121.3 686.6L1093.3 689.5L1065.2 692.6L1037.2 694.1L1009.1 696.0L1006.6 699.8L1009.1 703.9L1024.7 734.3L1037.2 758.6L1044.2 768.7L1065.2 794.6L1072.2 803.2L1093.3 829.0L1100.3 837.6L1121.3 863.5L1127.7 872.1L1149.4 893.8L1158.7 906.5L1173.9 941.0ZM741.4 562.0L728.7 562.0L728.7 562.0L728.7 571.8ZM1233.5 570.6L1233.5 562.0L1226.5 562.0Z" fill="#98d4fc" stroke="#98d4fc" stroke-width="0.6" fill-rule="evenodd"/>
<path d="M756.7 941.0L756.7 941.0L764.8 941.0L756.7 906.5L756.7 906.5L728.7 878.8L728.7 887.2L748.2 906.5ZM1149.4 906.5L1166.9 941.0L1173.9 941.0L1158.7 906.5L1149.4 893.8L1127.7 872.1L1121.3 863.5L1100.3 837.6L1093.3 829.0L1072.2 803.2L1065.2 794.6L1044.2 768.7L1037.2 758.6L1024.7 734.3L1009.1 703.9L1006.6 699.8L1009.1 696.0L1037.2 694.1L1065.2 692.6L1093.3 689.5L1121.3 686.6L1149.4 689.8L1177.4 694.9L1205.5 698.6L1208.0 699.8L1233.5 717.0L1233.5 699.8L1233.5 699.8L1205.5 686.3L1177.4 678.5L1149.4 675.4L1121.3 673.3L1093.3 672.3L1065.2 674.4L1037.2 674.9L1009.1 676.8L993.8 699.8L1009.1 724.1L1014.3 734.3L1034.4 768.7L1037.2 772.6L1062.1 803.2L1065.2 808.1L1089.3 837.6L1093.3 842.6L1117.3 872.1L1121.3 877.8L1149.4 906.5ZM981.1 665.4L981.1 665.4L981.1 665.4L981.1 665.4ZM754.2 562.0L741.4 562.0L728.7 571.8L728.7 581.7ZM1233.5 587.8L1233.5 570.6L1226.5 562.0L1212.5 562.0Z" fill="#b0ecfc" stroke="#b0ecfc" stroke-width="0.6" fill-rule="evenodd"/>
<path d="M761.4 906.5L756.7 900.3L729.9 872.1L728.7 870.8L728.7 872.1L728.7 878.8L756.7 906.5L756.7 906.5L764.8 941.0L772.8 941.0ZM1149.4 920.3L1159.9 941.0L1166.9 941.0L1149.4 906.5L1149.4 906.5L1121.3 877.8L1117.3 872.1L1093.3 842.6L1089.3 837.6L1065.2 808.1L1062.1 803.2L1037.2 772.6L1034.4 768.7L1014.3 734.3L1009.1 724.1L993.8 699.8L1009.1 676.8L1037.2 674.9L1065.2 674.4L1093.3 672.3L1121.3 673.3L1149.4 675.4L1177.4 678.5L1205.5 686.3L1233.5 699.8L1233.5 686.0L1205.5 674.0L1183.6 665.4L1177.4 663.5L1149.4 662.2L1121.3 661.1L1093.3 658.7L1065.2 659.2L1037.2 658.5L1009.1 660.3L981.1 654.6L965.5 665.4L981.1 699.8L981.1 699.8L1005.1 734.3L1009.1 738.6L1028.8 768.7L1037.2 780.2L1055.9 803.2L1065.2 817.9L1081.3 837.6L1093.3 852.4L1109.3 872.1L1121.3 889.3L1138.1 906.5ZM981.1 665.4L981.1 665.4L981.1 665.4L981.1 665.4ZM1233.5 603.3L1233.5 596.5L1233.5 587.8L1212.5 562.0L1205.5 562.0L1201.7 562.0L1205.5 570.6L1226.5 596.5ZM756.7 571.8L769.2 562.0L756.7 562.0L754.2 562.0L728.7 581.7L728.7 591.5Z" fill="#c8faff" stroke="#c8faff" stroke-width="0.6" fill-rule="evenodd"/>
<path d="M766.1 906.5L756.7 894.0L735.9 872.1L728.7 864.1L728.7 870.8L729.9 872.1L756.7 900.3L761.4 906.5L772.8 941.0L780.8 941.0ZM1149.4 934.1L1152.9 941.0L1159.9 941.0L1149.4 920.3L1138.1 906.5L1121.3 889.3L1109.3 872.1L1093.3 852.4L1081.3 837.6L1065.2 817.9L1055.9 803.2L1037.2 780.2L1028.8 768.7L1009.1 738.6L1005.1 734.3L981.1 699.8L981.1 699.8L965.5 665.4L981.1 654.6L1009.1 660.3L1037.2 658.5L1065.2 659.2L1093.3 658.7L1121.3 661.1L1149.4 662.2L1177.4 663.5L1183.6 665.4L1205.5 674.0L1233.5 686.0L1233.5 672.3L1216.0 665.4L1205.5 661.7L1177.4 654.2L1149.4 651.8L1121.3 650.3L1093.3 647.6L1065.2 646.9L1037.2 644.7L1009.1 647.5L981.1 643.8L957.1 630.9L953.1 628.9L949.0 630.9L951.2 665.4L953.1 667.5L974.1 699.8L981.1 711.3L997.1 734.3L1009.1 747.2L1023.2 768.7L1037.2 787.9L1049.7 803.2L1065.2 827.8L1073.2 837.6L1093.3 862.2L1101.3 872.1L1121.3 900.8L1126.9 906.5ZM738.0 596.5L756.7 584.1L784.8 562.0L784.8 562.0L784.8 562.0L769.2 562.0L756.7 571.8L728.7 591.5L728.7 596.5L728.7 602.2ZM1233.5 617.1L1233.5 603.3L1226.5 596.5L1205.5 570.6L1201.7 562.0L1194.1 562.0L1205.5 587.8L1212.5 596.5Z" fill="#dcfcff" stroke="#dcfcff" stroke-width="0.6" fill-rule="evenodd"/>
<path d="M784.8 941.0L787.9 941.0L784.8 936.1L770.8 906.5L756.7 887.8L741.8 872.1L728.7 857.5L728.7 864.1L735.9 872.1L756.7 894.0L766.1 906.5L780.8 941.0ZM1121.3 909.7L1146.8 941.0L1149.4 941.0L1152.9 941.0L1149.4 934.1L1126.9 906.5L1121.3 900.8L1101.3 872.1L1093.3 862.2L1073.2 837.6L1065.2 827.8L1049.7 803.2L1037.2 787.9L1023.2 768.7L1009.1 747.2L997.1 734.3L981.1 711.3L974.1 699.8L953.1 667.5L951.2 665.4L949.0 630.9L953.1 628.9L957.1 630.9L981.1 643.8L1009.1 647.5L1037.2 644.7L1065.2 646.9L1093.3 647.6L1121.3 650.3L1149.4 651.8L1177.4 654.2L1205.5 661.7L1216.0 665.4L1233.5 672.3L1233.5 665.4L1233.5 630.9L1233.5 617.1L1212.5 596.5L1205.5 587.8L1194.1 562.0L1186.5 562.0L1203.1 596.5L1205.5 605.1L1233.5 630.9L1205.5 649.4L1177.4 644.9L1149.4 641.3L1121.3 639.5L1093.3 636.5L1065.2 634.6L1037.2 630.9L1037.2 630.9L1037.2 630.9L1009.1 634.7L981.1 633.1L977.1 630.9L953.1 618.7L929.0 630.9L941.8 665.4L953.1 678.3L967.1 699.8L981.1 722.8L989.1 734.3L1009.1 755.8L1017.6 768.7L1037.2 795.5L1043.4 803.2L1065.2 837.6L1065.2 837.6L1093.3 872.1L1093.3 872.1L1119.4 906.5ZM756.7 596.5L756.7 596.5L784.8 575.8L794.1 562.0L784.8 562.0L784.8 562.0L756.7 584.1L738.0 596.5L728.7 602.2L728.7 613.7Z" fill="#f2feff" stroke="#f2feff" stroke-width="0.6" fill-rule="evenodd"/>
<path d="M784.8 936.1L787.9 941.0L794.1 941.0L784.8 926.2L775.4 906.5L756.7 881.5L747.8 872.1L728.7 850.9L728.7 857.5L741.8 872.1L756.7 887.8L770.8 906.5ZM1121.3 915.9L1141.7 941.0L1146.8 941.0L1121.3 909.7L1119.4 906.5L1093.3 872.1L1093.3 872.1L1065.2 837.6L1065.2 837.6L1043.4 803.2L1037.2 795.5L1017.6 768.7L1009.1 755.8L989.1 734.3L981.1 722.8L967.1 699.8L953.1 678.3L941.8 665.4L929.0 630.9L953.1 618.7L977.1 630.9L981.1 633.1L1009.1 634.7L1037.2 630.9L1037.2 630.9L1037.2 630.9L1065.2 634.6L1093.3 636.5L1121.3 639.5L1149.4 641.3L1177.4 644.9L1205.5 649.4L1233.5 630.9L1205.5 605.1L1203.1 596.5L1186.5 562.0L1178.9 562.0L1198.4 596.5L1205.5 622.3L1214.8 630.9L1205.5 637.1L1177.4 635.6L1149.4 630.9L1149.4 630.9L1121.3 629.4L1093.3 627.5L1065.2 625.8L1037.2 623.3L1009.1 624.7L981.1 623.7L953.1 608.6L925.0 618.9L917.0 630.9L925.0 648.1L932.5 665.4L953.1 689.1L960.1 699.8L981.1 734.3L981.1 734.3L1009.1 764.4L1011.9 768.7L1037.2 803.2L1037.2 803.2L1059.6 837.6L1065.2 844.5L1087.7 872.1L1093.3 877.2L1115.6 906.5ZM756.7 607.9L775.4 596.5L784.8 589.6L803.5 562.0L794.1 562.0L784.8 575.8L756.7 596.5L756.7 596.5L728.7 613.7L728.7 625.2Z" fill="#fffff0" stroke="#fffff0" stroke-width="0.6" fill-rule="evenodd"/>
<path d="M784.8 926.2L794.1 941.0L800.4 941.0L784.8 916.4L780.1 906.5L756.7 875.2L753.8 872.1L728.7 844.3L728.7 850.9L747.8 872.1L756.7 881.5L775.4 906.5ZM1121.3 922.2L1136.6 941.0L1141.7 941.0L1121.3 915.9L1115.6 906.5L1093.3 877.2L1087.7 872.1L1065.2 844.5L1059.6 837.6L1037.2 803.2L1037.2 803.2L1011.9 768.7L1009.1 764.4L981.1 734.3L981.1 734.3L960.1 699.8L953.1 689.1L932.5 665.4L925.0 648.1L917.0 630.9L925.0 618.9L953.1 608.6L981.1 623.7L1009.1 624.7L1037.2 623.3L1065.2 625.8L1093.3 627.5L1121.3 629.4L1149.4 630.9L1149.4 630.9L1177.4 635.6L1205.5 637.1L1214.8 630.9L1205.5 622.3L1198.4 596.5L1178.9 562.0L1177.4 562.0L1173.2 562.0L1177.4 568.4L1193.8 596.5L1177.4 626.6L1149.4 623.3L1121.3 621.7L1093.3 620.6L1065.2 618.4L1037.2 615.6L1009.1 615.9L981.1 614.6L953.1 598.5L925.0 603.9L907.0 630.9L924.1 665.4L925.0 666.6L953.1 699.8L953.1 699.8L974.1 734.3L981.1 740.5L1006.3 768.7L1009.1 771.9L1032.5 803.2L1037.2 811.8L1054.0 837.6L1065.2 851.4L1082.1 872.1L1093.3 882.2L1111.7 906.5ZM738.0 630.9L756.7 619.4L784.8 602.8L795.6 596.5L812.8 562.0L812.8 562.0L812.8 562.0L803.5 562.0L784.8 589.6L775.4 596.5L756.7 607.9L728.7 625.2L728.7 630.9L728.7 635.2Z" fill="#fefbd5" stroke="#fefbd5" stroke-width="0.6" fill-rule="evenodd"/>
<path d="M784.8 916.4L800.4 941.0L806.6 941.0L784.8 906.5L784.8 906.5L760.8 872.1L756.7 866.3L728.7 837.6L728.7 837.6L728.7 837.6L728.7 844.3L753.8 872.1L756.7 875.2L780.1 906.5ZM1121.3 928.5L1131.5 941.0L1136.6 941.0L1121.3 922.2L1111.7 906.5L1093.3 882.2L1082.1 872.1L1065.2 851.4L1054.0 837.6L1037.2 811.8L1032.5 803.2L1009.1 771.9L1006.3 768.7L981.1 740.5L974.1 734.3L953.1 699.8L953.1 699.8L925.0 666.6L924.1 665.4L907.0 630.9L925.0 603.9L953.1 598.5L981.1 614.6L1009.1 615.9L1037.2 615.6L1065.2 618.4L1093.3 620.6L1121.3 621.7L1149.4 623.3L1177.4 626.6L1193.8 596.5L1177.4 568.4L1173.2 562.0L1167.9 562.0L1177.4 576.4L1189.1 596.5L1177.4 618.0L1149.4 615.6L1121.3 614.1L1093.3 613.7L1065.2 611.1L1037.2 607.9L1009.1 607.1L981.1 605.5L965.5 596.5L953.1 590.0L925.0 591.5L911.0 596.5L897.0 630.9L897.0 630.9L897.0 630.9L919.4 665.4L925.0 673.0L947.7 699.8L953.1 711.3L967.1 734.3L981.1 746.8L1000.7 768.7L1009.1 778.1L1027.8 803.2L1037.2 820.4L1048.4 837.6L1065.2 858.3L1076.5 872.1L1093.3 887.3L1107.9 906.5ZM756.7 630.9L756.7 630.9L784.8 615.6L812.8 599.0L817.5 596.5L825.6 562.0L812.8 562.0L812.8 562.0L795.6 596.5L784.8 602.8L756.7 619.4L738.0 630.9L728.7 635.2L728.7 643.8Z" fill="#fdf3b8" stroke="#fdf3b8" stroke-width="0.6" fill-rule="evenodd"/>
<path d="M812.8 941.0L812.8 941.0L812.8 941.0L794.1 906.5L784.8 895.1L768.8 872.1L756.7 854.9L739.9 837.6L728.7 823.9L728.7 837.6L728.7 837.6L756.7 866.3L760.8 872.1L784.8 906.5L784.8 906.5L806.6 941.0ZM1121.3 934.7L1126.4 941.0L1131.5 941.0L1121.3 928.5L1107.9 906.5L1093.3 887.3L1076.5 872.1L1065.2 858.3L1048.4 837.6L1037.2 820.4L1027.8 803.2L1009.1 778.1L1000.7 768.7L981.1 746.8L967.1 734.3L953.1 711.3L947.7 699.8L925.0 673.0L919.4 665.4L897.0 630.9L897.0 630.9L897.0 630.9L911.0 596.5L925.0 591.5L953.1 590.0L965.5 596.5L981.1 605.5L1009.1 607.1L1037.2 607.9L1065.2 611.1L1093.3 613.7L1121.3 614.1L1149.4 615.6L1177.4 618.0L1189.1 596.5L1177.4 576.4L1167.9 562.0L1162.6 562.0L1177.4 584.4L1184.4 596.5L1177.4 609.4L1149.4 607.9L1121.3 606.4L1093.3 606.8L1065.2 603.8L1037.2 600.3L1009.1 598.2L981.1 596.5L981.1 596.5L953.1 582.0L925.0 581.7L897.0 588.6L887.6 596.5L890.0 630.9L897.0 638.1L914.7 665.4L925.0 679.4L942.3 699.8L953.1 722.8L960.1 734.3L981.1 753.1L995.1 768.7L1009.1 784.4L1023.2 803.2L1037.2 829.0L1042.8 837.6L1065.2 865.2L1070.8 872.1L1093.3 892.4L1104.0 906.5ZM756.7 641.7L780.1 630.9L784.8 628.4L812.8 611.8L840.9 596.5L840.9 596.5L840.9 596.5L838.3 562.0L825.6 562.0L817.5 596.5L812.8 599.0L784.8 615.6L756.7 630.9L756.7 630.9L728.7 643.8L728.7 652.4Z" fill="#f6d298" stroke="#f6d298" stroke-width="0.6" fill-rule="evenodd"/>
<path d="M812.8 941.0L812.8 941.0L826.9 941.0L812.8 923.8L803.5 906.5L784.8 883.6L776.8 872.1L756.7 843.4L751.1 837.6L728.7 810.1L728.7 823.9L739.9 837.6L756.7 854.9L768.8 872.1L784.8 895.1L794.1 906.5ZM1121.3 941.0L1126.4 941.0L1121.3 934.7L1104.0 906.5L1093.3 892.4L1070.8 872.1L1065.2 865.2L1042.8 837.6L1037.2 829.0L1023.2 803.2L1009.1 784.4L995.1 768.7L981.1 753.1L960.1 734.3L953.1 722.8L942.3 699.8L925.0 679.4L914.7 665.4L897.0 638.1L890.0 630.9L887.6 596.5L897.0 588.6L925.0 581.7L953.1 582.0L981.1 596.5L981.1 596.5L1009.1 598.2L1037.2 600.3L1065.2 603.8L1093.3 606.8L1121.3 606.4L1149.4 607.9L1177.4 609.4L1184.4 596.5L1177.4 584.4L1162.6 562.0L1157.3 562.0L1177.4 592.4L1179.7 596.5L1177.4 600.8L1149.4 600.3L1121.3 598.8L1093.3 599.9L1065.2 596.5L1065.2 596.5L1037.2 589.6L1009.1 585.9L981.1 584.1L953.1 574.0L925.0 571.8L897.0 573.0L868.9 596.5L863.3 562.0L840.9 562.0L838.3 562.0L840.9 596.5L840.9 596.5L840.9 596.5L812.8 611.8L784.8 628.4L780.1 630.9L756.7 641.7L728.7 652.4L728.7 661.1L756.7 652.4L784.8 641.5L802.0 630.9L812.8 624.5L840.9 610.2L868.9 596.5L882.9 630.9L897.0 645.3L910.1 665.4L925.0 685.8L936.9 699.8L953.1 734.3L953.1 734.3L981.1 759.3L989.5 768.7L1009.1 790.7L1018.5 803.2L1037.2 837.6L1037.2 837.6L1065.2 872.1L1065.2 872.1L1093.3 897.4L1100.2 906.5L1121.3 941.0Z" fill="#efab73" stroke="#efab73" stroke-width="0.6" fill-rule="evenodd"/>
<path d="M812.8 923.8L826.9 941.0L840.9 941.0L840.9 941.0L840.9 941.0L812.8 906.5L812.8 906.5L784.8 872.1L784.8 872.1L766.1 837.6L756.7 820.4L742.7 803.2L728.7 788.8L728.7 803.2L728.7 810.1L751.1 837.6L756.7 843.4L776.8 872.1L784.8 883.6L803.5 906.5ZM1100.2 906.5L1093.3 897.4L1065.2 872.1L1065.2 872.1L1037.2 837.6L1037.2 837.6L1018.5 803.2L1009.1 790.7L989.5 768.7L981.1 759.3L953.1 734.3L953.1 734.3L936.9 699.8L925.0 685.8L910.1 665.4L897.0 645.3L882.9 630.9L868.9 596.5L840.9 610.2L812.8 624.5L802.0 630.9L784.8 641.5L756.7 652.4L728.7 661.1L728.7 665.4L728.7 691.9L748.7 665.4L756.7 663.2L784.8 654.8L812.8 641.0L826.9 630.9L840.9 624.0L868.9 613.7L875.9 630.9L897.0 652.4L905.4 665.4L925.0 692.2L931.5 699.8L944.8 734.3L953.1 743.8L981.1 765.6L983.9 768.7L1009.1 796.9L1013.8 803.2L1029.2 837.6L1037.2 849.1L1055.9 872.1L1065.2 881.2L1093.3 902.5L1096.4 906.5L1112.6 941.0L1121.3 941.0ZM1093.3 599.9L1121.3 598.8L1149.4 600.3L1177.4 600.8L1179.7 596.5L1177.4 592.4L1157.3 562.0L1152.0 562.0L1149.4 579.2L1121.3 583.8L1093.3 589.0L1065.2 582.7L1037.2 575.8L1009.1 572.6L981.1 571.8L953.1 566.0L925.0 562.0L925.0 562.0L897.0 562.0L868.9 562.0L863.3 562.0L868.9 596.5L897.0 573.0L925.0 571.8L953.1 574.0L981.1 584.1L1009.1 585.9L1037.2 589.6L1065.2 596.5L1065.2 596.5Z" fill="#e77555" stroke="#e77555" stroke-width="0.6" fill-rule="evenodd"/>
<path d="M840.9 941.0L840.9 941.0L868.9 941.0L876.9 941.0L868.9 934.1L840.9 906.5L840.9 906.5L812.8 877.8L808.2 872.1L784.8 837.6L784.8 837.6L770.8 803.2L756.7 778.6L745.5 768.7L742.7 734.3L756.7 699.8L756.7 699.8L784.8 675.2L798.8 665.4L812.8 661.3L840.9 646.6L868.9 630.9L897.0 659.6L900.7 665.4L925.0 698.5L926.1 699.8L936.6 734.3L953.1 753.4L974.4 768.7L981.1 776.9L1009.1 803.2L1009.1 803.2L1021.2 837.6L1037.2 860.6L1046.5 872.1L1065.2 890.2L1090.5 906.5L1093.3 911.5L1103.8 941.0L1112.6 941.0L1096.4 906.5L1093.3 902.5L1065.2 881.2L1055.9 872.1L1037.2 849.1L1029.2 837.6L1013.8 803.2L1009.1 796.9L983.9 768.7L981.1 765.6L953.1 743.8L944.8 734.3L931.5 699.8L925.0 692.2L905.4 665.4L897.0 652.4L875.9 630.9L868.9 613.7L840.9 624.0L826.9 630.9L812.8 641.0L784.8 654.8L756.7 663.2L748.7 665.4L728.7 691.9L728.7 699.8L728.7 734.3L728.7 768.7L728.7 788.8L742.7 803.2L756.7 820.4L766.1 837.6L784.8 872.1L784.8 872.1L812.8 906.5L812.8 906.5ZM953.1 566.0L981.1 571.8L1009.1 572.6L1037.2 575.8L1065.2 582.7L1093.3 589.0L1121.3 583.8L1149.4 579.2L1152.0 562.0L1149.4 562.0L1129.3 562.0L1121.3 565.6L1093.3 574.0L1065.2 568.9L1037.2 562.0L1037.2 562.0L1009.1 562.0L981.1 562.0L953.1 562.0L925.0 562.0Z" fill="#dd3c3c" stroke="#dd3c3c" stroke-width="0.6" fill-rule="evenodd"/>
<path d="M868.9 934.1L876.9 941.0L897.0 941.0L925.0 941.0L939.0 941.0L925.0 931.2L897.0 919.5L880.1 906.5L868.9 889.3L840.9 872.1L840.9 872.1L812.8 837.6L812.8 803.2L812.8 803.2L801.6 768.7L805.8 734.3L812.8 722.8L826.9 699.8L840.9 688.3L868.9 665.4L897.0 679.1L904.6 699.8L925.0 722.8L928.3 734.3L953.1 763.0L961.1 768.7L981.1 793.3L991.6 803.2L1009.1 826.2L1013.2 837.6L1037.2 872.1L1037.2 872.1L1065.2 899.3L1076.5 906.5L1093.3 936.1L1095.0 941.0L1103.8 941.0L1093.3 911.5L1090.5 906.5L1065.2 890.2L1046.5 872.1L1037.2 860.6L1021.2 837.6L1009.1 803.2L1009.1 803.2L981.1 776.9L974.4 768.7L953.1 753.4L936.6 734.3L926.1 699.8L925.0 698.5L900.7 665.4L897.0 659.6L868.9 630.9L840.9 646.6L812.8 661.3L798.8 665.4L784.8 675.2L756.7 699.8L756.7 699.8L742.7 734.3L745.5 768.7L756.7 778.6L770.8 803.2L784.8 837.6L784.8 837.6L808.2 872.1L812.8 877.8L840.9 906.5L840.9 906.5ZM1065.2 568.9L1093.3 574.0L1121.3 565.6L1129.3 562.0L1121.3 562.0L1093.3 562.0L1065.2 562.0L1037.2 562.0Z" fill="#d52631" stroke="#d52631" stroke-width="0.6" fill-rule="evenodd"/>
<path d="M897.0 919.5L925.0 931.2L939.0 941.0L953.1 941.0L981.1 941.0L1009.1 941.0L1037.2 941.0L1065.2 941.0L1093.3 941.0L1095.0 941.0L1093.3 936.1L1076.5 906.5L1065.2 899.3L1037.2 872.1L1037.2 872.1L1013.2 837.6L1009.1 826.2L991.6 803.2L981.1 793.3L961.1 768.7L953.1 763.0L928.3 734.3L925.0 722.8L904.6 699.8L897.0 679.1L868.9 665.4L840.9 688.3L826.9 699.8L812.8 722.8L805.8 734.3L801.6 768.7L812.8 803.2L812.8 803.2L812.8 837.6L840.9 872.1L840.9 872.1L868.9 889.3L880.1 906.5Z" fill="#ba1a2e" stroke="#ba1a2e" stroke-width="0.6" fill-rule="evenodd"/>
<path d="M921.8 769.6 L925.6 768.1 L927.1 800.8 L952.2 799.3 L956.0 803.8 L956.7 832.7 L980.3 835.7 L982.6 838.8 L983.3 869.2 L1007.7 872.5 L981.8 876.8 L974.2 872.2 L975.0 844.9 L952.9 848.7 L942.3 838.8 L942.3 816.0 L925.6 811.4 L920.3 803.8Z" fill="#8e0022"/>

<rect x="728.7" y="562.0" width="504.29999999999995" height="379.0" fill="none" stroke="#262626" stroke-width="2"/>
<line x1="728.70" y1="562.00" x2="728.70" y2="556.00" stroke="#262626" stroke-width="2" />
<line x1="728.70" y1="941.00" x2="728.70" y2="947.00" stroke="#262626" stroke-width="2" />
<line x1="784.73" y1="562.00" x2="784.73" y2="556.00" stroke="#262626" stroke-width="2" />
<line x1="784.73" y1="941.00" x2="784.73" y2="947.00" stroke="#262626" stroke-width="2" />
<line x1="840.77" y1="562.00" x2="840.77" y2="556.00" stroke="#262626" stroke-width="2" />
<line x1="840.77" y1="941.00" x2="840.77" y2="947.00" stroke="#262626" stroke-width="2" />
<line x1="896.80" y1="562.00" x2="896.80" y2="556.00" stroke="#262626" stroke-width="2" />
<line x1="896.80" y1="941.00" x2="896.80" y2="947.00" stroke="#262626" stroke-width="2" />
<line x1="952.83" y1="562.00" x2="952.83" y2="556.00" stroke="#262626" stroke-width="2" />
<line x1="952.83" y1="941.00" x2="952.83" y2="947.00" stroke="#262626" stroke-width="2" />
<line x1="1008.87" y1="562.00" x2="1008.87" y2="556.00" stroke="#262626" stroke-width="2" />
<line x1="1008.87" y1="941.00" x2="1008.87" y2="947.00" stroke="#262626" stroke-width="2" />
<line x1="1064.90" y1="562.00" x2="1064.90" y2="556.00" stroke="#262626" stroke-width="2" />
<line x1="1064.90" y1="941.00" x2="1064.90" y2="947.00" stroke="#262626" stroke-width="2" />
<line x1="1120.93" y1="562.00" x2="1120.93" y2="556.00" stroke="#262626" stroke-width="2" />
<line x1="1120.93" y1="941.00" x2="1120.93" y2="947.00" stroke="#262626" stroke-width="2" />
<line x1="1176.97" y1="562.00" x2="1176.97" y2="556.00" stroke="#262626" stroke-width="2" />
<line x1="1176.97" y1="941.00" x2="1176.97" y2="947.00" stroke="#262626" stroke-width="2" />
<line x1="1233.00" y1="562.00" x2="1233.00" y2="556.00" stroke="#262626" stroke-width="2" />
<line x1="1233.00" y1="941.00" x2="1233.00" y2="947.00" stroke="#262626" stroke-width="2" />
<line x1="728.70" y1="941.00" x2="722.70" y2="941.00" stroke="#262626" stroke-width="2" />
<line x1="1233.00" y1="941.00" x2="1239.00" y2="941.00" stroke="#262626" stroke-width="2" />
<line x1="728.70" y1="906.55" x2="722.70" y2="906.55" stroke="#262626" stroke-width="2" />
<line x1="1233.00" y1="906.55" x2="1239.00" y2="906.55" stroke="#262626" stroke-width="2" />
<line x1="728.70" y1="872.09" x2="722.70" y2="872.09" stroke="#262626" stroke-width="2" />
<line x1="1233.00" y1="872.09" x2="1239.00" y2="872.09" stroke="#262626" stroke-width="2" />
<line x1="728.70" y1="837.64" x2="722.70" y2="837.64" stroke="#262626" stroke-width="2" />
<line x1="1233.00" y1="837.64" x2="1239.00" y2="837.64" stroke="#262626" stroke-width="2" />
<line x1="728.70" y1="803.18" x2="722.70" y2="803.18" stroke="#262626" stroke-width="2" />
<line x1="1233.00" y1="803.18" x2="1239.00" y2="803.18" stroke="#262626" stroke-width="2" />
<line x1="728.70" y1="768.73" x2="722.70" y2="768.73" stroke="#262626" stroke-width="2" />
<line x1="1233.00" y1="768.73" x2="1239.00" y2="768.73" stroke="#262626" stroke-width="2" />
<line x1="728.70" y1="734.27" x2="722.70" y2="734.27" stroke="#262626" stroke-width="2" />
<line x1="1233.00" y1="734.27" x2="1239.00" y2="734.27" stroke="#262626" stroke-width="2" />
<line x1="728.70" y1="699.82" x2="722.70" y2="699.82" stroke="#262626" stroke-width="2" />
<line x1="1233.00" y1="699.82" x2="1239.00" y2="699.82" stroke="#262626" stroke-width="2" />
<line x1="728.70" y1="665.36" x2="722.70" y2="665.36" stroke="#262626" stroke-width="2" />
<line x1="1233.00" y1="665.36" x2="1239.00" y2="665.36" stroke="#262626" stroke-width="2" />
<line x1="728.70" y1="630.91" x2="722.70" y2="630.91" stroke="#262626" stroke-width="2" />
<line x1="1233.00" y1="630.91" x2="1239.00" y2="630.91" stroke="#262626" stroke-width="2" />
<line x1="728.70" y1="596.45" x2="722.70" y2="596.45" stroke="#262626" stroke-width="2" />
<line x1="1233.00" y1="596.45" x2="1239.00" y2="596.45" stroke="#262626" stroke-width="2" />
<line x1="728.70" y1="562.00" x2="722.70" y2="562.00" stroke="#262626" stroke-width="2" />
<line x1="1233.00" y1="562.00" x2="1239.00" y2="562.00" stroke="#262626" stroke-width="2" />
<text x="696.00" y="954.50" font-size="35" text-anchor="middle" fill="#262626" color="#262626" font-weight="normal" >J</text>
<text x="696.00" y="920.05" font-size="35" text-anchor="middle" fill="#262626" color="#262626" font-weight="normal" >F</text>
<text x="696.00" y="885.59" font-size="35" text-anchor="middle" fill="#262626" color="#262626" font-weight="normal" >M</text>
<text x="696.00" y="851.14" font-size="35" text-anchor="middle" fill="#262626" color="#262626" font-weight="normal" >A</text>
<text x="696.00" y="816.68" font-size="35" text-anchor="middle" fill="#262626" color="#262626" font-weight="normal" >M</text>
<text x="696.00" y="782.23" font-size="35" text-anchor="middle" fill="#262626" color="#262626" font-weight="normal" >J</text>
<text x="696.00" y="747.77" font-size="35" text-anchor="middle" fill="#262626" color="#262626" font-weight="normal" >J</text>
<text x="696.00" y="713.32" font-size="35" text-anchor="middle" fill="#262626" color="#262626" font-weight="normal" >A</text>
<text x="696.00" y="678.86" font-size="35" text-anchor="middle" fill="#262626" color="#262626" font-weight="normal" >S</text>
<text x="696.00" y="644.41" font-size="35" text-anchor="middle" fill="#262626" color="#262626" font-weight="normal" >O</text>
<text x="696.00" y="609.95" font-size="35" text-anchor="middle" fill="#262626" color="#262626" font-weight="normal" >N</text>
<text x="696.00" y="575.50" font-size="35" text-anchor="middle" fill="#262626" color="#262626" font-weight="normal" >D</text>
<text x="727.90" y="996.00" font-size="35" text-anchor="middle" fill="#262626" color="#262626" font-weight="normal" >0</text>
<text x="783.93" y="996.00" font-size="35" text-anchor="middle" fill="#262626" color="#262626" font-weight="normal" >2</text>
<text x="839.97" y="996.00" font-size="35" text-anchor="middle" fill="#262626" color="#262626" font-weight="normal" >4</text>
<text x="896.00" y="996.00" font-size="35" text-anchor="middle" fill="#262626" color="#262626" font-weight="normal" >6</text>
<text x="952.03" y="996.00" font-size="35" text-anchor="middle" fill="#262626" color="#262626" font-weight="normal" >8</text>
<text x="1008.07" y="996.00" font-size="35" text-anchor="middle" fill="#262626" color="#262626" font-weight="normal" >10</text>
<text x="1064.10" y="996.00" font-size="35" text-anchor="middle" fill="#262626" color="#262626" font-weight="normal" >12</text>
<text x="1120.13" y="996.00" font-size="35" text-anchor="middle" fill="#262626" color="#262626" font-weight="normal" >14</text>
<text x="1176.17" y="996.00" font-size="35" text-anchor="middle" fill="#262626" color="#262626" font-weight="normal" >16</text>
<text x="1232.20" y="996.00" font-size="35" text-anchor="middle" fill="#262626" color="#262626" font-weight="normal" >18</text>
<text x="980.00" y="1042.00" font-size="34.4" text-anchor="middle" fill="#262626" color="#262626" font-weight="normal" >H leads T (month)</text>
<text x="663.00" y="751.50" font-size="34.4" text-anchor="middle" fill="#262626" color="#262626" font-weight="normal" transform="rotate(-90 663 751.5)">Calendar Month</text>
<text x="740.00" y="553.50" font-size="30" text-anchor="start" fill="#000" color="#000" font-weight="bold" >C</text>
<rect x="1255.1" y="922.25" width="29.4" height="19.26" fill="#2000d8"/>
<rect x="1255.1" y="903.29" width="29.4" height="19.26" fill="#1a1af5"/>
<rect x="1255.1" y="884.34" width="29.4" height="19.26" fill="#3a55f5"/>
<rect x="1255.1" y="865.38" width="29.4" height="19.26" fill="#5a86fc"/>
<rect x="1255.1" y="846.42" width="29.4" height="19.26" fill="#78aefc"/>
<rect x="1255.1" y="827.47" width="29.4" height="19.26" fill="#98d4fc"/>
<rect x="1255.1" y="808.51" width="29.4" height="19.26" fill="#b0ecfc"/>
<rect x="1255.1" y="789.56" width="29.4" height="19.26" fill="#c8faff"/>
<rect x="1255.1" y="770.61" width="29.4" height="19.26" fill="#dcfcff"/>
<rect x="1255.1" y="751.65" width="29.4" height="19.26" fill="#f2feff"/>
<rect x="1255.1" y="732.70" width="29.4" height="19.26" fill="#fffff0"/>
<rect x="1255.1" y="713.74" width="29.4" height="19.26" fill="#fefbd5"/>
<rect x="1255.1" y="694.78" width="29.4" height="19.26" fill="#fdf3b8"/>
<rect x="1255.1" y="675.83" width="29.4" height="19.26" fill="#f6d298"/>
<rect x="1255.1" y="656.88" width="29.4" height="19.26" fill="#efab73"/>
<rect x="1255.1" y="637.92" width="29.4" height="19.26" fill="#e77555"/>
<rect x="1255.1" y="618.97" width="29.4" height="19.26" fill="#dd3c3c"/>
<rect x="1255.1" y="600.01" width="29.4" height="19.26" fill="#d52631"/>
<rect x="1255.1" y="581.05" width="29.4" height="19.26" fill="#ba1a2e"/>
<rect x="1255.1" y="562.10" width="29.4" height="19.26" fill="#8e0022"/>
<rect x="1255.1" y="562.1" width="29.4" height="379.1" fill="none" stroke="#262626" stroke-width="2"/>
<line x1="1284.5" y1="941.20" x2="1280.0" y2="941.20" stroke="#262626" stroke-width="2"/>
<text x="1296.5" y="955.10" font-size="31" fill="#262626" color="#262626">-1</text>
<line x1="1284.5" y1="846.43" x2="1280.0" y2="846.43" stroke="#262626" stroke-width="2"/>
<text x="1296.5" y="860.33" font-size="31" fill="#262626" color="#262626">-0.5</text>
<line x1="1284.5" y1="751.65" x2="1280.0" y2="751.65" stroke="#262626" stroke-width="2"/>
<text x="1296.5" y="765.55" font-size="31" fill="#262626" color="#262626">0</text>
<line x1="1284.5" y1="656.88" x2="1280.0" y2="656.88" stroke="#262626" stroke-width="2"/>
<text x="1296.5" y="670.77" font-size="31" fill="#262626" color="#262626">0.5</text>
<line x1="1284.5" y1="562.10" x2="1280.0" y2="562.10" stroke="#262626" stroke-width="2"/>
<text x="1296.5" y="576.00" font-size="31" fill="#262626" color="#262626">1</text>

</svg></body></html>
